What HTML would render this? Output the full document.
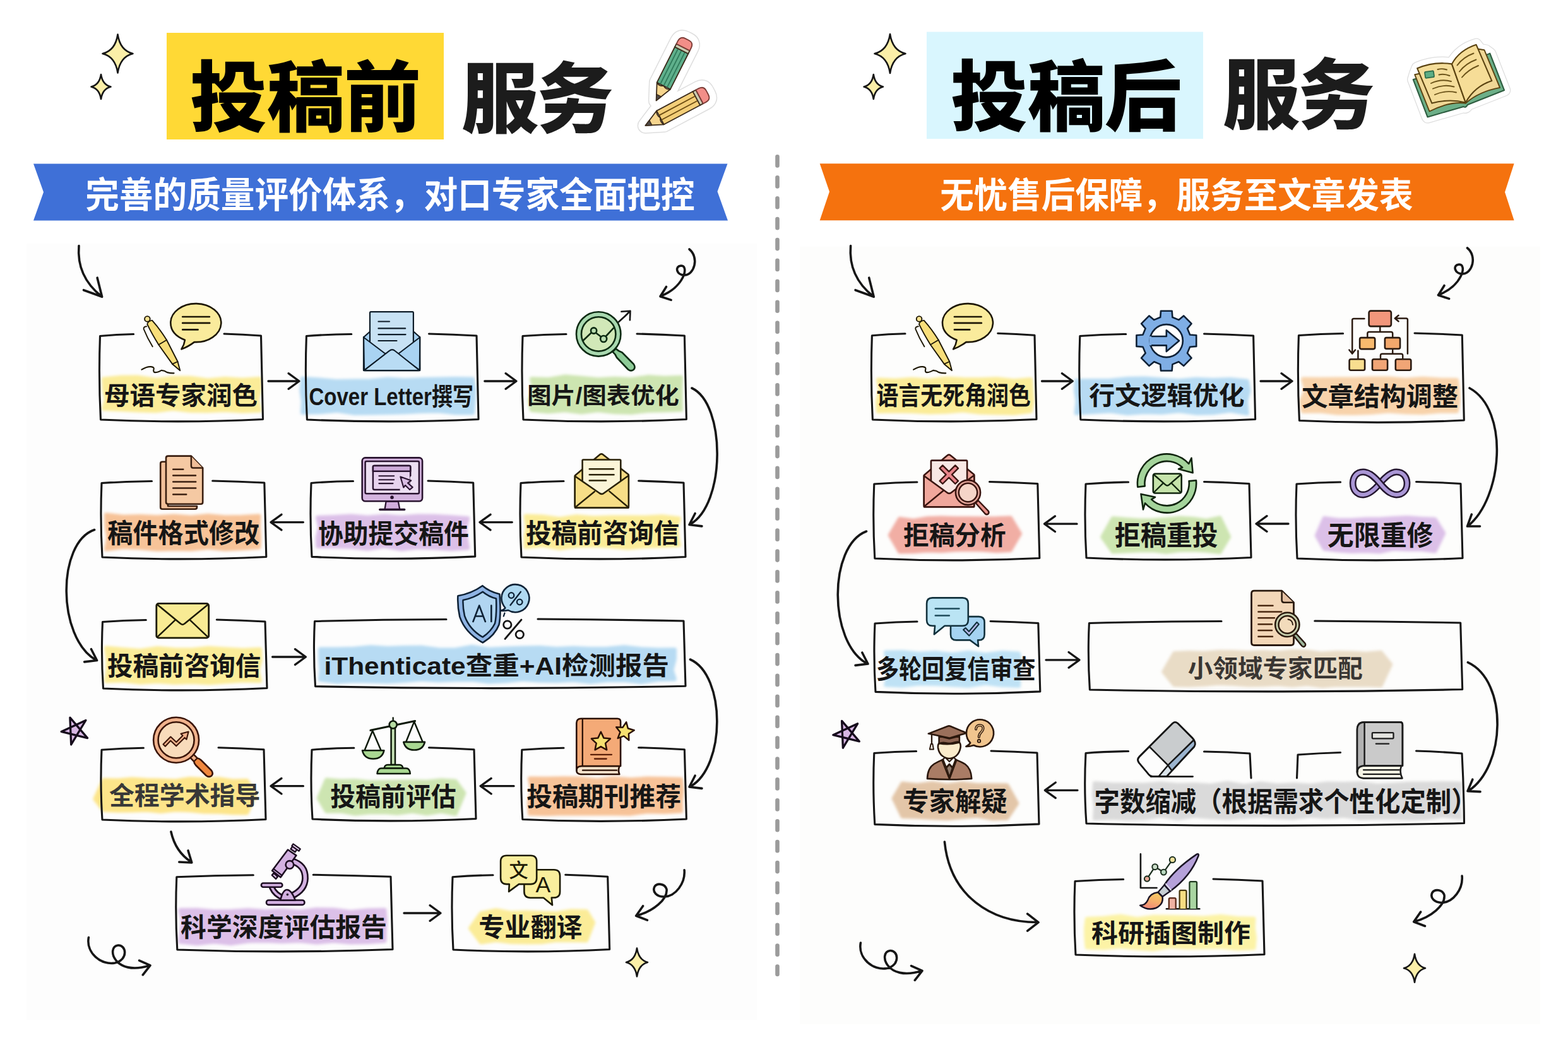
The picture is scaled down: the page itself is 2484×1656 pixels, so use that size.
<!DOCTYPE html>
<html lang="zh"><head><meta charset="utf-8"><title>投稿前服务 / 投稿后服务</title>
<style>
html,body{margin:0;padding:0;background:#ffffff;}
body{width:2484px;height:1656px;overflow:hidden;font-family:"Liberation Sans","Noto Sans CJK SC",sans-serif;}
svg{display:block;}
.t{font-family:"Liberation Sans","Noto Sans CJK SC",sans-serif;font-weight:bold;}
</style></head><body>
<svg width="2484" height="1656" viewBox="0 0 2484 1656">
<defs><filter id="bl" x="-5%" y="-20%" width="110%" height="140%"><feGaussianBlur stdDeviation="2.2"/></filter>
<linearGradient id="brg" x1="0.7" y1="0" x2="0.3" y2="1"><stop offset="0" stop-color="#F7CC62"/><stop offset="0.5" stop-color="#F5AE6C"/><stop offset="1" stop-color="#F0837A"/></linearGradient></defs>
<rect width="2484" height="1656" fill="#ffffff"/><rect x="42" y="386" width="1157" height="1230" fill="#fdfdfd"/><rect x="1267" y="391" width="1173" height="1232" fill="#fdfdfc"/>
<rect x="264" y="52" width="439" height="169" fill="#FFD935"/>
<rect x="1468" y="50.5" width="438" height="169.5" fill="#D9F6FE"/>
<text x="301" y="198" font-size="122" textLength="366" class="t" style="font-weight:900" fill="#000">投稿前</text><text x="731" y="200" font-size="122" textLength="241" class="t" style="font-weight:900" fill="#1c1c1c">服务</text>
<text x="1506" y="197" font-size="122" textLength="366" class="t" style="font-weight:900" fill="#000">投稿后</text><text x="1937" y="194" font-size="122" textLength="241" class="t" style="font-weight:900" fill="#1c1c1c">服务</text>
<path d="M186.5 54.5 Q190.3 80.1 210.5 85.0 Q190.3 89.9 186.5 115.5 Q182.7 89.9 162.5 85.0 Q182.7 80.1 186.5 54.5 Z" fill="#FBEFA8" stroke="#161616" stroke-width="2.6" stroke-linejoin="round"/>
<path d="M160.0 118.0 Q162.5 134.4 175.5 137.5 Q162.5 140.6 160.0 157.0 Q157.5 140.6 144.5 137.5 Q157.5 134.4 160.0 118.0 Z" fill="#FBEFA8" stroke="#161616" stroke-width="2.6" stroke-linejoin="round"/>
<path d="M1410.0 54.0 Q1413.9 80.0 1434.5 85.0 Q1413.9 90.0 1410.0 116.0 Q1406.1 90.0 1385.5 85.0 Q1406.1 80.0 1410.0 54.0 Z" fill="#FBEFA8" stroke="#161616" stroke-width="2.6" stroke-linejoin="round"/>
<path d="M1383.8 118.0 Q1386.2 134.4 1399.0 137.5 Q1386.2 140.6 1383.8 157.0 Q1381.4 140.6 1368.6 137.5 Q1381.4 134.4 1383.8 118.0 Z" fill="#FBEFA8" stroke="#161616" stroke-width="2.6" stroke-linejoin="round"/>
<path d="M1009.0 1502.5 Q1011.7 1521.4 1026.0 1525.0 Q1011.7 1528.6 1009.0 1547.5 Q1006.3 1528.6 992.0 1525.0 Q1006.3 1521.4 1009.0 1502.5 Z" fill="#FBEFA8" stroke="#161616" stroke-width="2.6" stroke-linejoin="round"/>
<path d="M2241.0 1511.8 Q2243.7 1530.7 2258.0 1534.3 Q2243.7 1537.9 2241.0 1556.8 Q2238.3 1537.9 2224.0 1534.3 Q2238.3 1530.7 2241.0 1511.8 Z" fill="#FBEFA8" stroke="#161616" stroke-width="2.6" stroke-linejoin="round"/>
<path d="M53 259.5 L1152.5 259.5 L1136.5 303.5 L1153 349.5 L53 349.5 L69 304.5 Z" fill="#3F70D7"/>
<path d="M1298.7 259.3 L2398.6 259.3 L2384 304.5 L2398.6 349.3 L1298.7 349.3 L1314 303.8 Z" fill="#F5720E"/>
<text x="135.3" y="328.8" font-size="56.8" textLength="965.3" lengthAdjust="spacingAndGlyphs" class="t" fill="#fff">完善的质量评价体系，对口专家全面把控</text>
<text x="1489.3" y="329.2" font-size="55.7" textLength="749.1" lengthAdjust="spacingAndGlyphs" class="t" fill="#fff">无忧售后保障，服务至文章发表</text>
<line x1="1231.5" y1="248.4" x2="1231.5" y2="1544" stroke="#9b9b9b" stroke-width="6.6" stroke-linecap="round" stroke-dasharray="14.1 18.8"/>
<path d="M164.0 600.6 L191.5 597.8 L219.0 597.6 L246.5 601.7 L274.0 598.8 L301.5 598.7 L329.0 602.5 L356.5 599.9 L384.0 601.7 L411.5 599.9 L411.6 616.7 L407.7 633.3 L411.5 650.7 L384.0 651.8 L356.5 650.1 L329.0 651.2 L301.5 650.9 L274.0 647.8 L246.5 651.3 L219.0 650.5 L191.5 649.0 L164.0 647.7 L167.9 633.3 L164.8 616.7Z" fill="#FBEC98" stroke="#FBEC98" stroke-width="6" stroke-linejoin="round" opacity="1.00" filter="url(#bl)"/>
<path d="M479.0 599.8 L506.0 601.5 L533.0 604.1 L560.0 603.5 L587.0 603.3 L614.0 600.6 L641.0 602.2 L668.0 600.9 L695.0 600.4 L722.0 600.0 L749.0 600.6 L751.4 619.0 L750.6 636.0 L749.0 654.5 L722.0 654.5 L695.0 651.5 L668.0 652.0 L641.0 653.6 L614.0 654.2 L587.0 654.8 L560.0 654.9 L533.0 650.9 L506.0 653.5 L479.0 653.9 L480.0 636.0 L477.4 619.0Z" fill="#B7DBF3" stroke="#B7DBF3" stroke-width="6" stroke-linejoin="round" opacity="1.00" filter="url(#bl)"/>
<path d="M842.0 600.2 L868.3 601.1 L894.7 596.6 L921.0 598.8 L947.3 601.2 L973.7 599.7 L1000.0 601.0 L1026.3 597.1 L1052.7 598.8 L1079.0 597.7 L1078.4 616.7 L1078.6 634.3 L1079.0 649.6 L1052.7 650.6 L1026.3 650.9 L1000.0 654.1 L973.7 653.3 L947.3 650.3 L921.0 653.5 L894.7 650.2 L868.3 652.6 L842.0 650.1 L839.0 634.3 L846.0 616.7Z" fill="#CDE5B1" stroke="#CDE5B1" stroke-width="6" stroke-linejoin="round" opacity="1.00" filter="url(#bl)"/>
<path d="M168.0 815.5 L194.9 818.8 L221.9 817.9 L248.8 819.3 L275.8 817.4 L302.7 819.4 L329.7 816.9 L356.6 819.5 L383.6 819.1 L410.5 817.6 L409.8 835.0 L411.0 852.0 L410.5 867.5 L383.6 869.3 L356.6 870.5 L329.7 867.8 L302.7 870.5 L275.8 869.9 L248.8 870.7 L221.9 868.2 L194.9 867.0 L168.0 870.5 L171.4 852.0 L168.6 835.0Z" fill="#F7C398" stroke="#F7C398" stroke-width="6" stroke-linejoin="round" opacity="1.00" filter="url(#bl)"/>
<path d="M503.0 819.9 L529.5 819.0 L556.0 817.5 L582.5 819.7 L609.0 817.4 L635.4 819.4 L661.9 817.5 L688.4 817.7 L714.9 819.3 L741.4 821.3 L737.4 835.8 L738.2 851.9 L741.4 868.6 L714.9 870.2 L688.4 868.4 L661.9 867.5 L635.4 870.4 L609.0 865.7 L582.5 869.8 L556.0 866.9 L529.5 866.2 L503.0 866.1 L502.5 851.9 L506.5 835.8Z" fill="#DCC0E8" stroke="#DCC0E8" stroke-width="6" stroke-linejoin="round" opacity="1.00" filter="url(#bl)"/>
<path d="M832.5 817.6 L859.6 818.4 L886.6 822.2 L913.7 818.2 L940.7 820.4 L967.8 819.5 L994.8 819.5 L1021.9 819.7 L1048.9 818.2 L1076.0 821.4 L1071.7 835.3 L1072.9 850.9 L1076.0 864.1 L1048.9 865.3 L1021.9 866.0 L994.8 868.5 L967.8 865.9 L940.7 864.6 L913.7 865.3 L886.6 869.0 L859.6 864.3 L832.5 867.1 L832.5 850.9 L834.8 835.3Z" fill="#FBEC98" stroke="#FBEC98" stroke-width="6" stroke-linejoin="round" opacity="1.00" filter="url(#bl)"/>
<path d="M168.0 1026.5 L195.1 1029.0 L222.2 1031.0 L249.3 1026.9 L276.4 1029.3 L303.6 1029.6 L330.7 1026.7 L357.8 1028.4 L384.9 1030.0 L412.0 1028.8 L412.8 1046.2 L408.3 1063.3 L412.0 1079.2 L384.9 1078.6 L357.8 1080.5 L330.7 1082.6 L303.6 1081.0 L276.4 1081.9 L249.3 1079.9 L222.2 1081.7 L195.1 1078.5 L168.0 1079.5 L170.4 1063.3 L170.8 1046.2Z" fill="#FBEC98" stroke="#FBEC98" stroke-width="6" stroke-linejoin="round" opacity="1.00" filter="url(#bl)"/>
<path d="M507.0 1028.6 L533.8 1028.6 L560.5 1027.8 L587.3 1025.3 L614.0 1027.1 L640.8 1026.1 L667.6 1025.7 L694.3 1029.3 L721.1 1029.5 L747.9 1024.7 L774.6 1028.8 L801.4 1027.5 L828.1 1026.4 L854.9 1025.9 L881.7 1027.9 L908.4 1026.8 L935.2 1027.9 L962.0 1027.8 L988.7 1025.2 L1015.5 1028.3 L1042.2 1029.4 L1069.0 1029.3 L1068.9 1044.3 L1064.4 1061.7 L1069.0 1076.5 L1042.2 1077.2 L1015.5 1081.2 L988.7 1078.0 L962.0 1078.3 L935.2 1081.0 L908.4 1078.1 L881.7 1079.2 L854.9 1078.7 L828.1 1076.8 L801.4 1079.4 L774.6 1080.7 L747.9 1077.3 L721.1 1077.6 L694.3 1078.6 L667.6 1076.7 L640.8 1079.0 L614.0 1080.6 L587.3 1079.8 L560.5 1079.2 L533.8 1080.8 L507.0 1077.2 L508.5 1061.7 L507.0 1044.3Z" fill="#B7DBF3" stroke="#B7DBF3" stroke-width="6" stroke-linejoin="round" opacity="1.00" filter="url(#bl)"/>
<path d="M164.0 1236.0 L186.7 1236.4 L209.4 1234.4 L232.2 1236.1 L254.9 1236.6 L277.6 1237.5 L300.4 1234.0 L323.1 1235.0 L345.8 1234.0 L368.6 1237.5 L391.3 1237.0 L404.1 1258.6 L391.3 1288.4 L368.6 1288.3 L345.8 1286.8 L323.1 1286.6 L300.4 1284.3 L277.6 1283.6 L254.9 1286.1 L232.2 1283.8 L209.4 1284.5 L186.7 1284.7 L164.0 1283.7 L150.4 1266.1Z" fill="#FDE58A" stroke="#FDE58A" stroke-width="6" stroke-linejoin="round" opacity="1.00" filter="url(#bl)"/>
<path d="M517.1 1235.6 L539.8 1237.4 L562.6 1236.9 L585.3 1239.6 L608.0 1239.0 L630.7 1238.5 L653.4 1238.3 L676.2 1238.8 L698.9 1236.2 L721.6 1237.7 L735.5 1256.7 L721.6 1290.0 L698.9 1285.8 L676.2 1289.6 L653.4 1285.9 L630.7 1288.9 L608.0 1287.2 L585.3 1287.5 L562.6 1289.7 L539.8 1285.6 L517.1 1285.8 L504.7 1265.0Z" fill="#CDE5B1" stroke="#CDE5B1" stroke-width="6" stroke-linejoin="round" opacity="1.00" filter="url(#bl)"/>
<path d="M839.0 1233.4 L865.7 1233.7 L892.3 1233.2 L919.0 1233.6 L945.7 1236.2 L972.3 1233.2 L999.0 1235.2 L1025.7 1233.6 L1052.3 1234.0 L1079.0 1234.7 L1080.7 1252.7 L1078.9 1270.3 L1079.0 1285.6 L1052.3 1286.9 L1025.7 1286.2 L999.0 1289.9 L972.3 1289.5 L945.7 1289.5 L919.0 1289.6 L892.3 1289.2 L865.7 1290.2 L839.0 1289.5 L838.1 1270.3 L842.8 1252.7Z" fill="#F7C398" stroke="#F7C398" stroke-width="6" stroke-linejoin="round" opacity="1.00" filter="url(#bl)"/>
<path d="M285.4 1441.9 L312.4 1441.8 L339.4 1444.2 L366.4 1443.8 L393.4 1442.0 L420.4 1443.9 L447.4 1442.5 L474.5 1444.4 L501.5 1441.1 L528.5 1441.6 L555.5 1445.0 L582.5 1442.3 L609.5 1441.8 L610.9 1459.7 L609.6 1476.3 L609.5 1491.2 L582.5 1493.3 L555.5 1493.8 L528.5 1491.3 L501.5 1493.8 L474.5 1491.1 L447.4 1492.2 L420.4 1490.9 L393.4 1491.5 L366.4 1495.4 L339.4 1492.5 L312.4 1495.5 L285.4 1492.7 L287.3 1476.3 L289.4 1459.7Z" fill="#DCC0E8" stroke="#DCC0E8" stroke-width="6" stroke-linejoin="round" opacity="1.00" filter="url(#bl)"/>
<path d="M762.1 1447.1 L785.9 1442.3 L809.8 1446.6 L833.7 1445.6 L857.5 1446.5 L881.4 1447.2 L905.3 1443.4 L929.1 1443.9 L940.1 1462.0 L929.1 1490.4 L905.3 1490.3 L881.4 1490.1 L857.5 1493.3 L833.7 1493.4 L809.8 1493.0 L785.9 1490.1 L762.1 1493.6 L745.0 1470.9Z" fill="#FBEC98" stroke="#FBEC98" stroke-width="6" stroke-linejoin="round" opacity="1.00" filter="url(#bl)"/>
<path d="M1391.0 601.5 L1417.9 602.8 L1444.8 600.8 L1471.7 602.7 L1498.6 599.6 L1525.4 601.0 L1552.3 601.2 L1579.2 600.2 L1606.1 603.2 L1633.0 601.1 L1634.3 619.0 L1635.6 636.0 L1633.0 651.8 L1606.1 655.0 L1579.2 654.5 L1552.3 653.8 L1525.4 650.6 L1498.6 652.8 L1471.7 653.6 L1444.8 652.0 L1417.9 651.6 L1391.0 652.0 L1390.1 636.0 L1394.3 619.0Z" fill="#FBEC98" stroke="#FBEC98" stroke-width="6" stroke-linejoin="round" opacity="1.00" filter="url(#bl)"/>
<path d="M1704.6 603.3 L1731.7 603.0 L1758.9 602.8 L1786.0 600.1 L1813.2 599.6 L1840.3 601.4 L1867.4 603.2 L1894.6 600.8 L1921.7 602.0 L1948.9 601.1 L1976.0 603.7 L1978.6 619.0 L1974.2 636.0 L1976.0 655.5 L1948.9 650.8 L1921.7 654.6 L1894.6 654.9 L1867.4 651.3 L1840.3 654.0 L1813.2 653.3 L1786.0 655.3 L1758.9 651.6 L1731.7 653.2 L1704.6 654.9 L1706.7 636.0 L1704.1 619.0Z" fill="#B7DBF3" stroke="#B7DBF3" stroke-width="6" stroke-linejoin="round" opacity="1.00" filter="url(#bl)"/>
<path d="M2064.0 600.6 L2091.1 600.7 L2118.2 600.6 L2145.3 600.5 L2172.4 599.5 L2199.6 599.5 L2226.7 601.7 L2253.8 599.8 L2280.9 601.6 L2308.0 602.1 L2309.9 618.1 L2310.6 635.6 L2308.0 651.7 L2280.9 651.7 L2253.8 654.2 L2226.7 653.4 L2199.6 651.5 L2172.4 653.9 L2145.3 654.9 L2118.2 654.7 L2091.1 651.6 L2064.0 652.0 L2061.1 635.6 L2068.8 618.1Z" fill="#F8D3AB" stroke="#F8D3AB" stroke-width="6" stroke-linejoin="round" opacity="1.00" filter="url(#bl)"/>
<path d="M1425.2 821.9 L1447.2 824.9 L1469.1 821.3 L1491.0 820.6 L1513.0 821.2 L1534.9 821.2 L1556.8 821.5 L1578.8 821.2 L1600.7 820.4 L1616.0 845.8 L1600.7 872.1 L1578.8 873.3 L1556.8 871.5 L1534.9 870.9 L1513.0 871.5 L1491.0 873.2 L1469.1 872.4 L1447.2 874.2 L1425.2 874.5 L1409.9 847.9Z" fill="#F1AEA4" stroke="#F1AEA4" stroke-width="6" stroke-linejoin="round" opacity="1.00" filter="url(#bl)"/>
<path d="M1762.9 821.2 L1784.1 823.1 L1805.3 824.4 L1826.5 824.3 L1847.7 822.8 L1868.8 820.7 L1890.0 822.0 L1911.2 824.9 L1932.4 820.4 L1947.0 850.6 L1932.4 875.3 L1911.2 872.7 L1890.0 871.5 L1868.8 872.1 L1847.7 875.0 L1826.5 872.2 L1805.3 872.6 L1784.1 873.6 L1762.9 874.5 L1746.3 850.9Z" fill="#CDE5B1" stroke="#CDE5B1" stroke-width="6" stroke-linejoin="round" opacity="1.00" filter="url(#bl)"/>
<path d="M2097.8 821.0 L2119.7 823.9 L2141.7 823.9 L2163.6 822.5 L2185.6 822.4 L2207.5 821.1 L2229.5 819.9 L2251.4 821.8 L2273.4 822.8 L2287.2 844.9 L2273.4 873.5 L2251.4 870.7 L2229.5 870.7 L2207.5 869.7 L2185.6 874.5 L2163.6 873.2 L2141.7 873.9 L2119.7 872.6 L2097.8 869.7 L2085.8 848.8Z" fill="#DCC0E8" stroke="#DCC0E8" stroke-width="6" stroke-linejoin="round" opacity="1.00" filter="url(#bl)"/>
<path d="M1403.0 1033.4 L1429.4 1033.1 L1455.8 1035.8 L1482.1 1034.2 L1508.5 1036.9 L1534.9 1033.7 L1561.2 1037.3 L1587.6 1034.1 L1614.0 1035.5 L1616.5 1051.7 L1614.5 1068.3 L1614.0 1087.1 L1587.6 1086.0 L1561.2 1082.7 L1534.9 1086.9 L1508.5 1085.4 L1482.1 1084.1 L1455.8 1083.5 L1429.4 1086.7 L1403.0 1085.4 L1407.5 1068.3 L1406.2 1051.7Z" fill="#BFE2F5" stroke="#BFE2F5" stroke-width="6" stroke-linejoin="round" opacity="1.00" filter="url(#bl)"/>
<path d="M1860.3 1035.0 L1883.7 1034.1 L1907.0 1034.7 L1930.4 1032.7 L1953.8 1033.0 L1977.2 1034.2 L2000.5 1033.1 L2023.9 1034.3 L2047.3 1032.1 L2070.7 1032.4 L2094.0 1035.6 L2117.4 1034.1 L2140.8 1034.6 L2164.2 1035.7 L2187.6 1033.8 L2203.2 1052.8 L2187.6 1086.4 L2164.2 1085.4 L2140.8 1085.8 L2117.4 1085.6 L2094.0 1087.4 L2070.7 1084.3 L2047.3 1086.3 L2023.9 1084.3 L2000.5 1085.4 L1977.2 1085.8 L1953.8 1084.1 L1930.4 1082.9 L1907.0 1084.9 L1883.7 1086.1 L1860.3 1085.5 L1843.3 1064.5Z" fill="#E9DCC6" stroke="#E9DCC6" stroke-width="6" stroke-linejoin="round" opacity="1.00" filter="url(#bl)"/>
<path d="M1429.5 1241.5 L1453.2 1243.9 L1476.9 1241.0 L1500.6 1244.3 L1524.2 1241.3 L1547.9 1244.0 L1571.6 1244.1 L1595.3 1244.3 L1611.3 1273.0 L1595.3 1296.8 L1571.6 1297.4 L1547.9 1293.1 L1524.2 1295.1 L1500.6 1297.3 L1476.9 1296.2 L1453.2 1294.7 L1429.5 1294.0 L1415.6 1265.2Z" fill="#E3C6A8" stroke="#E3C6A8" stroke-width="6" stroke-linejoin="round" opacity="1.00" filter="url(#bl)"/>
<path d="M1721.8 1455.9 L1748.3 1454.7 L1774.7 1451.7 L1801.2 1456.3 L1827.7 1452.8 L1854.2 1453.0 L1880.6 1453.6 L1907.1 1454.4 L1933.6 1452.1 L1960.0 1454.9 L1986.5 1455.7 L1985.6 1470.0 L1987.9 1486.0 L1986.5 1502.6 L1960.0 1503.6 L1933.6 1500.4 L1907.1 1501.3 L1880.6 1501.8 L1854.2 1500.0 L1827.7 1504.4 L1801.2 1502.7 L1774.7 1500.0 L1748.3 1502.4 L1721.8 1501.6 L1720.3 1486.0 L1720.1 1470.0Z" fill="#FCF3A6" stroke="#FCF3A6" stroke-width="6" stroke-linejoin="round" opacity="1.00" filter="url(#bl)"/>
<path d="M1734.0 1241.1 L1760.3 1242.9 L1786.6 1243.3 L1813.0 1243.6 L1839.3 1241.2 L1865.6 1243.7 L1891.9 1243.0 L1918.2 1244.8 L1944.5 1240.6 L1970.9 1245.3 L1997.2 1241.4 L2023.5 1244.6 L2049.8 1243.0 L2076.1 1244.7 L2102.5 1241.4 L2128.8 1242.1 L2155.1 1240.9 L2181.4 1244.4 L2207.7 1243.2 L2234.0 1241.5 L2260.4 1241.5 L2286.7 1240.9 L2313.0 1241.5 L2312.5 1260.3 L2311.5 1277.7 L2313.0 1296.0 L2286.7 1292.9 L2260.4 1296.7 L2234.0 1297.4 L2207.7 1296.2 L2181.4 1296.2 L2155.1 1296.7 L2128.8 1293.0 L2102.5 1294.8 L2076.1 1292.9 L2049.8 1296.4 L2023.5 1295.2 L1997.2 1293.0 L1970.9 1294.7 L1944.5 1296.4 L1918.2 1295.3 L1891.9 1293.1 L1865.6 1297.2 L1839.3 1292.8 L1813.0 1296.7 L1786.6 1297.4 L1760.3 1296.3 L1734.0 1297.2 L1735.2 1277.7 L1732.8 1260.3Z" fill="#DADADA" stroke="#DADADA" stroke-width="6" stroke-linejoin="round" opacity="1.00" filter="url(#bl)"/>
<path d="M211.6 529.5 Q184.6 529.8 158.5 532.5 Q156.0 598.5 159.5 665.0 Q286.0 671.0 416.5 664.5 Q415.0 598.5 413.5 532.0 Q384.8 529.8 355.0 529.0" fill="none" stroke="#161616" stroke-width="3.1" stroke-linecap="round" stroke-linejoin="round"/>
<path d="M556.8 529.5 Q520.6 529.8 485.4 532.5 Q482.9 598.5 486.4 665.0 Q620.2 671.0 758.0 664.5 Q756.5 598.5 755.0 532.0 Q717.8 529.8 679.5 529.0" fill="none" stroke="#161616" stroke-width="3.1" stroke-linecap="round" stroke-linejoin="round"/>
<path d="M897.0 529.5 Q862.0 529.8 828.0 532.5 Q825.5 598.5 829.0 665.0 Q956.2 671.0 1087.4 664.5 Q1085.9 598.5 1084.4 532.0 Q1047.2 529.8 1009.0 529.0" fill="none" stroke="#161616" stroke-width="3.1" stroke-linecap="round" stroke-linejoin="round"/>
<path d="M240.5 762.5 Q200.2 762.8 161.0 765.5 Q158.5 824.0 162.0 883.0 Q289.9 889.0 421.8 882.5 Q420.3 824.0 418.8 765.0 Q378.2 762.8 336.7 762.0" fill="none" stroke="#161616" stroke-width="3.1" stroke-linecap="round" stroke-linejoin="round"/>
<path d="M559.5 762.5 Q525.8 762.8 493.0 765.5 Q490.5 823.7 494.0 882.4 Q621.4 888.4 752.7 881.9 Q751.2 823.7 749.7 765.0 Q714.4 762.8 678.0 762.0" fill="none" stroke="#161616" stroke-width="3.1" stroke-linecap="round" stroke-linejoin="round"/>
<path d="M893.0 762.5 Q858.5 762.8 825.0 765.5 Q822.5 824.0 826.0 883.0 Q954.0 889.0 1086.0 882.5 Q1084.5 824.0 1083.0 765.0 Q1047.8 762.8 1011.6 762.0" fill="none" stroke="#161616" stroke-width="3.1" stroke-linecap="round" stroke-linejoin="round"/>
<path d="M231.3 982.5 Q196.4 982.8 162.5 985.5 Q160.0 1038.0 163.5 1091.0 Q291.2 1097.0 423.0 1090.5 Q421.5 1038.0 420.0 985.0 Q382.1 982.8 343.3 982.0" fill="none" stroke="#161616" stroke-width="3.1" stroke-linecap="round" stroke-linejoin="round"/>
<path d="M707.0 981.5 Q602.2 981.8 498.5 984.5 Q496.0 1035.8 499.5 1087.7 Q790.8 1093.7 1086.0 1087.2 Q1084.5 1035.8 1083.0 984.0 Q968.0 981.8 852.0 981.0" fill="none" stroke="#161616" stroke-width="3.1" stroke-linecap="round" stroke-linejoin="round"/>
<path d="M227.4 1185.2 Q193.7 1185.5 161.0 1188.2 Q158.5 1243.3 162.0 1299.0 Q289.5 1305.0 421.0 1298.5 Q419.5 1243.3 418.0 1187.7 Q382.5 1185.5 346.0 1184.7" fill="none" stroke="#161616" stroke-width="3.1" stroke-linecap="round" stroke-linejoin="round"/>
<path d="M560.8 1185.2 Q526.9 1185.5 494.0 1188.2 Q491.5 1242.8 495.0 1298.0 Q622.5 1304.0 754.0 1297.5 Q752.5 1242.8 751.0 1187.7 Q715.8 1185.5 679.5 1184.7" fill="none" stroke="#161616" stroke-width="3.1" stroke-linecap="round" stroke-linejoin="round"/>
<path d="M893.0 1185.2 Q859.4 1185.5 826.8 1188.2 Q824.3 1243.1 827.8 1298.5 Q955.6 1304.5 1087.4 1298.0 Q1085.9 1243.1 1084.4 1187.7 Q1048.5 1185.5 1011.6 1184.7" fill="none" stroke="#161616" stroke-width="3.1" stroke-linecap="round" stroke-linejoin="round"/>
<path d="M401.3 1386.8 Q340.1 1387.1 279.8 1389.8 Q277.3 1447.2 280.8 1505.0 Q449.4 1511.0 622.0 1504.5 Q620.5 1447.2 619.0 1389.3 Q558.1 1387.1 496.2 1386.3" fill="none" stroke="#161616" stroke-width="3.1" stroke-linecap="round" stroke-linejoin="round"/>
<path d="M781.0 1386.8 Q748.5 1387.1 717.0 1389.8 Q714.5 1447.2 718.0 1505.0 Q839.9 1511.0 965.7 1504.5 Q964.2 1447.2 962.7 1389.3 Q929.7 1387.1 895.7 1386.3" fill="none" stroke="#161616" stroke-width="3.1" stroke-linecap="round" stroke-linejoin="round"/>
<path d="M1434.0 528.8 Q1407.2 529.1 1381.4 531.8 Q1378.9 598.1 1382.4 665.0 Q1510.2 671.0 1642.0 664.5 Q1640.5 598.1 1639.0 531.3 Q1610.3 529.1 1580.7 528.3" fill="none" stroke="#161616" stroke-width="3.1" stroke-linecap="round" stroke-linejoin="round"/>
<path d="M1783.7 529.5 Q1746.8 529.8 1710.8 532.5 Q1708.3 598.5 1711.8 665.0 Q1848.2 671.0 1988.6 664.5 Q1987.1 598.5 1985.6 532.0 Q1947.0 529.8 1907.5 529.0" fill="none" stroke="#161616" stroke-width="3.1" stroke-linecap="round" stroke-linejoin="round"/>
<path d="M2127.6 528.5 Q2092.0 528.8 2057.4 531.5 Q2054.9 598.8 2058.4 666.5 Q2186.9 672.5 2319.3 666.0 Q2317.8 598.8 2316.3 531.0 Q2279.2 528.8 2241.0 528.0" fill="none" stroke="#161616" stroke-width="3.1" stroke-linecap="round" stroke-linejoin="round"/>
<path d="M1452.9 764.0 Q1418.3 764.3 1384.8 767.0 Q1382.3 825.8 1385.8 885.0 Q1514.3 891.0 1646.8 884.5 Q1645.3 825.8 1643.8 766.5 Q1606.2 764.3 1567.5 763.5" fill="none" stroke="#161616" stroke-width="3.1" stroke-linecap="round" stroke-linejoin="round"/>
<path d="M1787.6 764.0 Q1753.3 764.3 1720.0 767.0 Q1717.5 825.2 1721.0 884.0 Q1849.5 890.0 1982.0 883.5 Q1980.5 825.2 1979.0 766.5 Q1943.8 764.3 1907.5 763.5" fill="none" stroke="#161616" stroke-width="3.1" stroke-linecap="round" stroke-linejoin="round"/>
<path d="M2123.6 764.0 Q2088.3 764.3 2054.0 767.0 Q2051.5 825.8 2055.0 885.0 Q2184.0 891.0 2317.0 884.5 Q2315.5 825.8 2314.0 766.5 Q2279.2 764.3 2243.5 763.5" fill="none" stroke="#161616" stroke-width="3.1" stroke-linecap="round" stroke-linejoin="round"/>
<path d="M1453.0 985.0 Q1419.0 985.3 1386.0 988.0 Q1383.5 1042.0 1387.0 1096.4 Q1515.4 1102.4 1647.8 1095.9 Q1646.3 1042.0 1644.8 987.5 Q1607.4 985.3 1569.0 984.5" fill="none" stroke="#161616" stroke-width="3.1" stroke-linecap="round" stroke-linejoin="round"/>
<path d="M1935.0 984.5 Q1829.7 984.8 1725.4 987.5 Q1722.9 1040.0 1726.4 1093.0 Q2019.5 1099.0 2316.7 1092.5 Q2315.2 1040.0 2313.7 987.0 Q2198.8 984.8 2082.8 984.0" fill="none" stroke="#161616" stroke-width="3.1" stroke-linecap="round" stroke-linejoin="round"/>
<path d="M1451.6 1190.5 Q1417.7 1190.8 1384.8 1193.5 Q1382.3 1249.7 1385.8 1306.4 Q1513.9 1312.4 1646.0 1305.9 Q1644.5 1249.7 1643.0 1193.0 Q1607.0 1190.8 1570.0 1190.0" fill="none" stroke="#161616" stroke-width="3.1" stroke-linecap="round" stroke-linejoin="round"/>
<path d="M1779.7 1393.5 Q1740.8 1393.8 1703.0 1396.5 Q1700.5 1454.5 1704.0 1513.0 Q1851.5 1519.0 2003.0 1512.5 Q2001.5 1454.5 2000.0 1396.0 Q1961.5 1393.8 1922.0 1393.0" fill="none" stroke="#161616" stroke-width="3.1" stroke-linecap="round" stroke-linejoin="round"/>
<path d="M1787.6 1190.5 Q1750 1191 1720 1193.5 Q1717 1250 1721 1305 Q2018 1312 2319.5 1304.5 Q2319 1250 2316 1194 Q2280 1191 2243.5 1190" fill="none" stroke="#161616" stroke-width="3.1" stroke-linecap="round" stroke-linejoin="round"/>
<path d="M1907.5 1191 Q1945 1191.5 1980 1194 L1982 1233 M2123.6 1192.5 Q2090 1193.5 2056 1196 L2054.5 1233" fill="none" stroke="#161616" stroke-width="3.1" stroke-linecap="round" stroke-linejoin="round"/>
<path d="M292.9 538.8 Q270.3 530 270.3 511.5 A40 30.5 0 1 1 307.8 542.1 Q298 549.5 287.5 553.3 Q292 546 292.9 538.8Z" fill="#FAEB9C" stroke="#1d1705" stroke-width="2.6" stroke-linecap="round" stroke-linejoin="round" /><path d="M289.2 502.0 H331.9 M289.2 511.9 H332.2 M289.2 522.4 H313.6" fill="none" stroke="#1d1705" stroke-width="2.6" stroke-linecap="round" stroke-linejoin="round" /><path d="M232.1 517.3 Q227 517.5 227.7 521.5 Q233.5 536 241.7 549.2" fill="none" stroke="#1d1705" stroke-width="2.0" stroke-linecap="round" stroke-linejoin="round" /><path d="M233.2 513.7 Q234.6 508.5 240.9 507.6 Q253 521 264 538.8 L281.5 573 L285.3 587.2 L273.1 576.9 L251.3 546.3 Q240.5 529 233.2 513.7 Z" fill="#F8DE7A" stroke="#1d1705" stroke-width="1.9" stroke-linecap="round" stroke-linejoin="round" /><circle cx="233.4" cy="505.4" r="4.3" fill="#F8E391" stroke="#1d1705" stroke-width="1.9"/><path d="M251.3 546.3 L264 538.8 M273.1 576.9 L281.5 573" fill="none" stroke="#1d1705" stroke-width="1.8" stroke-linecap="round" stroke-linejoin="round" /><path d="M224.5 585.6 Q233 580.5 239.1 581.1 Q244.5 581.8 243.6 585 Q242.5 588.5 244.5 590 Q248 591 255.7 586.9 Q260.5 587 264.7 590.1 Q270 591.5 275.5 591.3" fill="none" stroke="#1d1705" stroke-width="2.2" stroke-linecap="round" stroke-linejoin="round" />
<path d="M576.5 534 L585.5 526 L655.8 526 L664.8 534 L665.2 587.1 L576 587.1 Z" fill="#A5CFEF" stroke="#0e1c28" stroke-width="2.2" stroke-linecap="round" stroke-linejoin="round" /><path d="M587.5 494.2 H653.4 Q654.9 494.2 654.9 496 V560 H586 V496 Q586 494.2 587.5 494.2Z" fill="#C8E2F4" stroke="#0e1c28" stroke-width="2.2" stroke-linecap="round" stroke-linejoin="round" /><path d="M599.4 509.5 H617.0 M599.4 520.4 H642.2 M599.4 530.1 H642.6 M599.4 540.0 H628.5" fill="none" stroke="#0e1c28" stroke-width="2.1" stroke-linecap="round" stroke-linejoin="round" /><path d="M576 534.5 L611 561 L577 586.5 Z" fill="#A9D3F2" stroke="#0e1c28" stroke-width="2.1" stroke-linecap="round" stroke-linejoin="round" /><path d="M665.2 534.5 L630.5 561 L664.8 586.5 Z" fill="#A9D3F2" stroke="#0e1c28" stroke-width="2.1" stroke-linecap="round" stroke-linejoin="round" /><path d="M577 587 L616.5 556.2 Q621.2 552.2 626 556.2 L664.6 587 Z" fill="#B9DCF4" stroke="#0e1c28" stroke-width="2.1" stroke-linecap="round" stroke-linejoin="round" /><rect style="display:none" x="576.0" y="533.6" width="89.2" height="53.5" rx="2.5" fill="none" stroke="#0e1c28" stroke-width="2.2" stroke-linejoin="round"/><path d="M576 534 V585 Q576 587.1 578 587.1 H663 Q665.2 587.1 665.2 585 V534" fill="none" stroke="#0e1c28" stroke-width="2.2" stroke-linecap="round" stroke-linejoin="round" />
<path d="M975 514.5 Q988 503.5 998.3 493 M984.5 493.8 L998.5 492.8 L997.9 507.2" fill="none" stroke="#161616" stroke-width="2.6" stroke-linecap="round" stroke-linejoin="round" /><path d="M970.5 557.5 L975.5 552.5 Q979 556 985.5 558.5 L1003.8 577 Q1007.5 582.5 1003.5 586 Q999.5 589 995 585.5 L977 566.5 Q975 561 970.5 557.5Z" fill="#8DCB97" stroke="#0c2a12" stroke-width="2.6" stroke-linecap="round" stroke-linejoin="round" /><circle cx="948.2" cy="529.4" r="35.2" fill="#A8D8AF" stroke="#0c2a12" stroke-width="2.6"/><circle cx="948.2" cy="529.4" r="27.2" fill="#D1E8B8" stroke="#0c2a12" stroke-width="2.6"/><path d="M923.7 539.7 L936.5 527.5 M945 528.3 L952.3 533.8 M960.2 532.5 L971.9 519.8" fill="none" stroke="#0c2a12" stroke-width="2.6" stroke-linecap="round" stroke-linejoin="round" /><circle cx="940.6" cy="524.0" r="4.6" fill="#B9DDAF" stroke="#0c2a12" stroke-width="2.6"/><circle cx="956.2" cy="537.0" r="5.0" fill="#B9DDAF" stroke="#0c2a12" stroke-width="2.6"/>
<path d="M257.2 731.7 H266 V802 H312 V803.8 Q312 806.8 309 806.8 H257.2 Q254.2 806.8 254.2 803.8 V734.7 Q254.2 731.7 257.2 731.7Z" fill="#F2C09A" stroke="#3a1f10" stroke-width="2.6" stroke-linecap="round" stroke-linejoin="round" /><path d="M266.5 722.6 H302.9 L321.2 741.6 V795.7 Q321.2 798.7 318.2 798.7 H266.5 Q263 798.7 263 795.7 V725.6 Q263 722.6 266.5 722.6Z" fill="#F5C9A3" stroke="#3a1f10" stroke-width="2.6" stroke-linecap="round" stroke-linejoin="round" /><path d="M302.9 723 V738.6 Q302.9 741.6 305.9 741.6 H321" fill="#F0BE98" stroke="#3a1f10" stroke-width="2.5" stroke-linecap="round" stroke-linejoin="round" /><path d="M274.2 743.7 H290.3 M274.2 753.5 H310.0 M274.2 763.6 H310.2 M274.2 773.5 H310.2 M274.2 783.6 H295.2" fill="none" stroke="#3a1f10" stroke-width="2.5" stroke-linecap="round" stroke-linejoin="round" />
<path d="M611.6 794.6 L609.5 807.2 L633.3 807.2 L630.9 794.6Z" fill="#D2AEDD" stroke="#2a1430" stroke-width="2.3" stroke-linecap="round" stroke-linejoin="round" /><path d="M601.8 807.5 H640.7" fill="none" stroke="#2a1430" stroke-width="3.5" stroke-linecap="round" stroke-linejoin="round" /><rect x="573.7" y="725.4" width="95.4" height="68.8" rx="5.0" fill="#D4B4DF" stroke="#2a1430" stroke-width="2.6" stroke-linejoin="round"/><rect x="578.6" y="731.0" width="85.3" height="51.3" rx="2.0" fill="#ECDFF2" stroke="#2a1430" stroke-width="2.5" stroke-linejoin="round"/><rect x="590.9" y="738.0" width="59.3" height="38.0" rx="2.5" fill="#E7D2EE" stroke="#2a1430" stroke-width="2.5" stroke-linejoin="round"/><path d="M592.5 738 H648.6 Q650.2 738 650.2 739.6 V746.8 H590.9 V739.6 Q590.9 738 592.5 738Z" fill="#CDABDA" stroke="#2a1430" stroke-width="2.5" stroke-linecap="round" stroke-linejoin="round" /><path d="M600.4 754.2 H624.2 M600.4 760.2 H624.2 M600.4 766.1 H622.5" fill="none" stroke="#2a1430" stroke-width="2.1" stroke-linecap="round" stroke-linejoin="round" /><path d="M636 776 H652 V757" fill="none" stroke="#ECDFF2" stroke-width="5.0" stroke-linecap="round" stroke-linejoin="round" /><path d="M634.4 755.6 L651.2 761.6 L646.0 765.4 L653.7 772.1 L649.1 776.0 L642.1 769.0 L639.3 772.5Z" fill="#D9BCE3" stroke="#2a1430" stroke-width="2.1" stroke-linecap="round" stroke-linejoin="round" /><circle cx="621.0" cy="788.2" r="2.6" fill="#2a1430" stroke="#2a1430" stroke-width="0.4"/>
<path d="M911 753.6 L949.5 721 Q952.8 717.8 956 721 L995.6 752 V804.6 H911Z" fill="#F5DB84" stroke="#2a2208" stroke-width="2.6" stroke-linecap="round" stroke-linejoin="round" /><path d="M924 728.5 H982 Q983.3 728.5 983.3 730 V790 H922.6 V730 Q922.6 728.5 924 728.5Z" fill="#FBF5D8" stroke="#2a2208" stroke-width="2.6" stroke-linecap="round" stroke-linejoin="round" /><path d="M933.8 743.2 H972.0 M933.8 752.3 H972.5 M933.8 761.5 H960.1" fill="none" stroke="#2a2208" stroke-width="2.6" stroke-linecap="round" stroke-linejoin="round" /><path d="M910.7 754.5 L949 781 Q953.1 784.5 957 781.3 L995.9 753.5 V802 Q995.9 804.6 993.3 804.6 H913.3 Q910.7 804.6 910.7 802Z" fill="#F7DE87" stroke="#2a2208" stroke-width="2.6" stroke-linecap="round" stroke-linejoin="round" /><path d="M911.5 803.8 L941.9 779 M995.2 803.8 L965.4 778.6" fill="none" stroke="#2a2208" stroke-width="2.5" stroke-linecap="round" stroke-linejoin="round" />
<rect x="247.8" y="956.4" width="82.9" height="54.5" rx="3.5" fill="#F8EB94" stroke="#1c1a05" stroke-width="2.8" stroke-linejoin="round"/><path d="M249.3 958.2 L286.2 988.4 Q289.2 991.1 292.2 988.4 L329.2 958.2" fill="none" stroke="#1c1a05" stroke-width="2.6" stroke-linecap="round" stroke-linejoin="round" /><path d="M249.3 1009.4 L277.2 982.8 M329.2 1009.4 L301.3 982.8" fill="none" stroke="#1c1a05" stroke-width="2.5" stroke-linecap="round" stroke-linejoin="round" />
<path d="M764.3 928.2 Q775 937.5 791.5 941.5 Q794 975 790.5 990 Q784 1007 764.7 1018.4 Q737 1003 728.3 977.4 Q724.5 960 725.4 944.3 Q748 940 764.3 928.2Z" fill="#8FB4E4" stroke="#0e2236" stroke-width="2.6" stroke-linecap="round" stroke-linejoin="round" /><path d="M764.7 937.7 Q774 945.5 786 948.5 Q787 975 784 988 Q778 1000.5 764.7 1009.6 Q744 998 736 976 Q733 962 733.5 951 Q751 947.5 764.7 937.7Z" fill="#B1D5F1" stroke="#0e2236" stroke-width="2.5" stroke-linecap="round" stroke-linejoin="round" /><path d="M749.5 985 L759.2 959.5 L768.8 985 M753 976.5 H765.3 M778.3 959.5 V985" fill="none" stroke="#0e2236" stroke-width="2.6" stroke-linecap="round" stroke-linejoin="round" /><path d="M800.5 963.5 Q794.4 956.5 794.4 947.6 A22 22 0 1 1 805 967 Q799 968.5 793.6 967.8 Q798.5 966 800.5 963.5Z" fill="#AFD9F1" stroke="#0e2236" stroke-width="2.6" stroke-linecap="round" stroke-linejoin="round" /><path d="M808.5 959 L825 937.8" fill="none" stroke="#0e2236" stroke-width="2.3" stroke-linecap="round" stroke-linejoin="round" /><circle cx="810.0" cy="943.5" r="4.3" fill="none" stroke="#0e2236" stroke-width="2.3"/><circle cx="823.2" cy="954.0" r="4.3" fill="none" stroke="#0e2236" stroke-width="2.3"/><path d="M800 1012.5 L826 982" fill="none" stroke="#161616" stroke-width="2.8" stroke-linecap="round" stroke-linejoin="round" /><circle cx="803.8" cy="990.0" r="6.2" fill="none" stroke="#161616" stroke-width="2.8"/><circle cx="823.3" cy="1005.5" r="6.2" fill="none" stroke="#161616" stroke-width="2.8"/><path d="M799.5 971.5 L797.8 976.5" fill="none" stroke="#0e2236" stroke-width="2.3" stroke-linecap="round" stroke-linejoin="round" />
<path d="M300.5 1199.5 L305.5 1194.5 L312.5 1201.5 Q315.5 1201.8 318.5 1204.5 L335 1221 Q338.5 1226 335 1229.5 Q331 1232.5 326.5 1229 L310 1212.5 Q307.5 1209.5 307.2 1206.5Z" fill="#F0873E" stroke="#3b1508" stroke-width="2.6" stroke-linecap="round" stroke-linejoin="round" /><path d="M301 1200 L306 1195 L312.5 1201.5 L307.3 1206.5Z" fill="#F2B48E" stroke="#3b1508" stroke-width="2.3" stroke-linecap="round" stroke-linejoin="round" /><circle cx="279.1" cy="1172.7" r="36.0" fill="#F1B28C" stroke="#3b1508" stroke-width="2.6"/><circle cx="279.1" cy="1172.7" r="28.5" fill="#F8DBBB" stroke="#3b1508" stroke-width="2.6"/><path d="M258.5 1179.5 L270.3 1167.5 L279.3 1176 L289.5 1165.8 L286.5 1162.8 L298.6 1159.5 L295.5 1171.8 L292.6 1168.9 L279.2 1182.3 L270.3 1173.8 L261.8 1182.7 Z" fill="#F1B28C" stroke="#3b1508" stroke-width="2.1" stroke-linecap="round" stroke-linejoin="round" />
<rect x="619.6" y="1152.0" width="6.4" height="60.0" rx="0.0" fill="#C5E1B5" stroke="#0e1a0a" stroke-width="2.5" stroke-linejoin="round"/><path d="M608.4 1217.6 Q609.5 1212 614 1212 H633 Q637.5 1212 638.6 1217.6Z" fill="#A9D892" stroke="#0e1a0a" stroke-width="2.5" stroke-linecap="round" stroke-linejoin="round" /><path d="M597.5 1226 Q598.5 1217.6 604 1217.6 H643.5 Q649 1217.6 649.8 1226Z" fill="#A9D892" stroke="#0e1a0a" stroke-width="2.5" stroke-linecap="round" stroke-linejoin="round" /><path d="M622.7 1137.3 V1143" fill="none" stroke="#0e1a0a" stroke-width="2.3" stroke-linecap="round" stroke-linejoin="round" /><path d="M587 1157.3 L657.5 1142.5" fill="none" stroke="#0e1a0a" stroke-width="3.2" stroke-linecap="round" stroke-linejoin="round" /><circle cx="622.7" cy="1148.5" r="6.0" fill="#B6DDA2" stroke="#0e1a0a" stroke-width="2.6"/><path d="M590.2 1158 L577.8 1188.5 M590.2 1158 L603.3 1188.5 M656.1 1143.6 L643.5 1175 M656.1 1143.6 L669.3 1175" fill="none" stroke="#0e1a0a" stroke-width="2.5" stroke-linecap="round" stroke-linejoin="round" /><path d="M574 1189.2 H608.4 Q605.5 1202.5 591.2 1202.5 Q577 1202.5 574 1189.2Z" fill="#A9D892" stroke="#0e1a0a" stroke-width="2.6" stroke-linecap="round" stroke-linejoin="round" /><path d="M639.3 1175.9 H673 Q670 1188.5 656.2 1188.5 Q642.3 1188.5 639.3 1175.9Z" fill="#A9D892" stroke="#0e1a0a" stroke-width="2.6" stroke-linecap="round" stroke-linejoin="round" />
<path d="M920 1214 H981.5 Q978.5 1220.5 981.3 1227 H920 Q913.3 1226.5 913.3 1220.5 Q913.3 1214.5 920 1214Z" fill="#F9E4CD" stroke="#2a1005" stroke-width="2.6" stroke-linecap="round" stroke-linejoin="round" /><path d="M923 1220.7 H977" fill="none" stroke="#2a1005" stroke-width="2.3" stroke-linecap="round" stroke-linejoin="round" /><path d="M920.5 1138.7 H978 Q983.1 1138.7 983.1 1143.5 V1214 H921 Q913.3 1214.3 913.3 1221 V1146 Q913.3 1138.7 920.5 1138.7Z" fill="#F4AA77" stroke="#2a1005" stroke-width="2.6" stroke-linecap="round" stroke-linejoin="round" /><path d="M922.8 1140 V1213.5" fill="none" stroke="#2a1005" stroke-width="2.3" stroke-linecap="round" stroke-linejoin="round" /><path d="M936.0 1195.8 H969.0 M942.0 1202.5 H960.7" fill="none" stroke="#5a1e08" stroke-width="2.3" stroke-linecap="round" stroke-linejoin="round" /><path d="M951.9 1159.7 L956.4 1169.4 L966.9 1170.6 L959.1 1177.8 L961.2 1188.3 L951.9 1183.1 L942.6 1188.3 L944.7 1177.8 L936.9 1170.6 L947.4 1169.4Z" fill="#F6DF70" stroke="#2a1005" stroke-width="2.5" stroke-linecap="round" stroke-linejoin="round" /><path d="M992.2 1144.3 L994.8 1154.3 L1004.7 1157.2 L996.0 1162.7 L996.3 1173.0 L988.3 1166.4 L978.7 1169.9 L982.5 1160.3 L976.2 1152.2 L986.4 1152.8Z" fill="#F6DF70" stroke="#2a1005" stroke-width="2.5" stroke-linecap="round" stroke-linejoin="round" />
<rect x="422.0" y="1426.5" width="60.4" height="7.4" rx="3.5" fill="#D3B1E1" stroke="#1d0d22" stroke-width="2.6" stroke-linejoin="round"/><path d="M462.5 1364.5 Q484 1371 483.5 1392 Q483 1410 462.5 1419.5" fill="none" stroke="#1d0d22" stroke-width="10.8" stroke-linecap="round" stroke-linejoin="round" /><path d="M462.5 1364.5 Q484 1371 483.5 1392 Q483 1410 462.5 1419.5" fill="none" stroke="#D3B1E1" stroke-width="5.6" stroke-linecap="round" stroke-linejoin="round" /><path d="M430.5 1406 Q436 1418.5 449.5 1423" fill="none" stroke="#1d0d22" stroke-width="9.4" stroke-linecap="round" stroke-linejoin="round" /><path d="M430.5 1406 Q436 1418.5 449.5 1423" fill="none" stroke="#D3B1E1" stroke-width="3.9" stroke-linecap="round" stroke-linejoin="round" /><path d="M444.3 1426.5 Q448 1410 454.6 1410 Q461.5 1410 467.8 1426.5Z" fill="#D3B1E1" stroke="#1d0d22" stroke-width="2.6" stroke-linecap="round" stroke-linejoin="round" /><circle cx="455.4" cy="1417.6" r="1.6" fill="#1d0d22" stroke="#1d0d22" stroke-width="0.4"/><rect x="413.9" y="1399.5" width="33.4" height="6.3" rx="3.0" fill="#D3B1E1" stroke="#1d0d22" stroke-width="2.6" stroke-linejoin="round"/><path d="M433.6 1383.4 L439.9 1389.3 L437.1 1392.8 L430.8 1386.8Z" fill="#DCC0E7" stroke="#1d0d22" stroke-width="2.3" stroke-linecap="round" stroke-linejoin="round" /><path d="M456.0 1346.5 L469.4 1355.6 L444.5 1390.3 L431.1 1379.8Z" fill="#D3B1E1" stroke="#1d0d22" stroke-width="2.6" stroke-linecap="round" stroke-linejoin="round" /><path d="M433.4 1376.8 L446.8 1387.3" fill="none" stroke="#1d0d22" stroke-width="2.3" stroke-linecap="round" stroke-linejoin="round" /><path d="M460.5 1345.5 L467.5 1350.3 L470.6 1345.8 L463.6 1341.0Z" fill="#DCC0E7" stroke="#1d0d22" stroke-width="2.3" stroke-linecap="round" stroke-linejoin="round" /><path d="M464.5 1337.4 L475.7 1345.4 L473.5 1348.6 L462.3 1340.6Z" fill="#E6D2EE" stroke="#1d0d22" stroke-width="2.3" stroke-linecap="round" stroke-linejoin="round" /><circle cx="458.9" cy="1370.4" r="6.3" fill="#D3B1E1" stroke="#1d0d22" stroke-width="2.6"/>
<path d="M840 1378.2 H877.5 Q887.1 1378.2 887.1 1387.8 V1413 Q887.1 1422.5 877.5 1422.5 H873.8 L875 1434.3 L861 1422.8 H840 Q830.4 1422.5 830.4 1413 V1387.8 Q830.4 1378.2 840 1378.2Z" fill="#F9EE9D" stroke="#1c1a05" stroke-width="2.6" stroke-linecap="round" stroke-linejoin="round" /><path d="M802.6 1355.8 H840.7 Q850.2 1355.8 850.2 1365.3 V1391.6 Q850.2 1401.1 840.7 1401.1 H822.1 L806.1 1412.9 L806.8 1401.1 H802.6 Q793.1 1401.1 793.1 1391.6 V1365.3 Q793.1 1355.8 802.6 1355.8Z" fill="#F9EE9D" stroke="#1c1a05" stroke-width="2.6" stroke-linecap="round" stroke-linejoin="round" /><text x="806.45" y="1389.74" font-size="30.3" fill="#1c1a05" style="font-family:'Liberation Sans','Noto Sans CJK SC',sans-serif;font-weight:500">文</text><text x="848.6" y="1413.6" font-size="35.5" fill="#1c1a05" style="font-family:'Liberation Sans','Noto Sans CJK SC',sans-serif;font-weight:500">A</text>
<g transform="translate(1222.7 0)"><path d="M292.9 538.8 Q270.3 530 270.3 511.5 A40 30.5 0 1 1 307.8 542.1 Q298 549.5 287.5 553.3 Q292 546 292.9 538.8Z" fill="#FAEB9C" stroke="#1d1705" stroke-width="2.6" stroke-linecap="round" stroke-linejoin="round" /><path d="M289.2 502.0 H331.9 M289.2 511.9 H332.2 M289.2 522.4 H313.6" fill="none" stroke="#1d1705" stroke-width="2.6" stroke-linecap="round" stroke-linejoin="round" /><path d="M232.1 517.3 Q227 517.5 227.7 521.5 Q233.5 536 241.7 549.2" fill="none" stroke="#1d1705" stroke-width="2.0" stroke-linecap="round" stroke-linejoin="round" /><path d="M233.2 513.7 Q234.6 508.5 240.9 507.6 Q253 521 264 538.8 L281.5 573 L285.3 587.2 L273.1 576.9 L251.3 546.3 Q240.5 529 233.2 513.7 Z" fill="#F8DE7A" stroke="#1d1705" stroke-width="1.9" stroke-linecap="round" stroke-linejoin="round" /><circle cx="233.4" cy="505.4" r="4.3" fill="#F8E391" stroke="#1d1705" stroke-width="1.9"/><path d="M251.3 546.3 L264 538.8 M273.1 576.9 L281.5 573" fill="none" stroke="#1d1705" stroke-width="1.8" stroke-linecap="round" stroke-linejoin="round" /><path d="M224.5 585.6 Q233 580.5 239.1 581.1 Q244.5 581.8 243.6 585 Q242.5 588.5 244.5 590 Q248 591 255.7 586.9 Q260.5 587 264.7 590.1 Q270 591.5 275.5 591.3" fill="none" stroke="#1d1705" stroke-width="2.2" stroke-linecap="round" stroke-linejoin="round" /></g>
<path d="M1838.2 502.8 L1839.0 492.7 L1856.6 492.7 L1857.4 502.8 L1867.3 506.9 L1875.1 500.4 L1887.5 512.8 L1881.0 520.6 L1885.1 530.5 L1895.2 531.3 L1895.2 548.9 L1885.1 549.7 L1881.0 559.6 L1887.5 567.4 L1875.1 579.8 L1867.3 573.3 L1857.4 577.4 L1856.6 587.5 L1839.0 587.5 L1838.2 577.4 L1828.3 573.3 L1820.5 579.8 L1808.1 567.4 L1814.6 559.6 L1810.5 549.7 L1800.4 548.9 L1800.4 531.3 L1810.5 530.5 L1814.6 520.6 L1808.1 512.8 L1820.5 500.4 L1828.3 506.9Z" fill="#7FAEE5" stroke="#0e2035" stroke-width="2.6" stroke-linecap="round" stroke-linejoin="round" stroke-miterlimit="2"/><circle cx="1847.8" cy="540.1" r="26.0" fill="#fefefe" stroke="#0e2035" stroke-width="2.6"/><path d="M1822.5 533 H1847.8 V523.3 L1868 540.1 L1847.8 557 V547.4 H1822.5" fill="#7FAEE5" stroke="#0e2035" stroke-width="2.6" stroke-linecap="round" stroke-linejoin="round" /><path d="M1822.6 534.6 V545.8" fill="none" stroke="#7FAEE5" stroke-width="3.5" stroke-linecap="round" stroke-linejoin="round" />
<path d="M2186.3 517.1 V525.9 M2166.3 535.1 V528.5 Q2166.3 525.9 2169 525.9 H2203.5 Q2206.2 525.9 2206.2 528.5 V535.1 M2206.2 552.7 V560.8 M2187 569.2 V563.4 Q2187 560.8 2189.6 560.8 H2219.6 Q2222.2 560.8 2222.2 563.4 V569.2 M2151.4 555.8 V569.2" fill="none" stroke="#2a1a10" stroke-width="2.5" stroke-linecap="round" stroke-linejoin="round" /><path d="M2161.4 504.9 H2144.5 Q2142.2 504.9 2142.2 507.2 V560 M2137.4 554.5 L2142.2 560.6 L2147 554.5" fill="none" stroke="#2a1a10" stroke-width="2.5" stroke-linecap="round" stroke-linejoin="round" /><path d="M2229.9 560.4 V506.8 Q2229.9 504.5 2227.6 504.5 H2210.5 M2215.5 499.8 L2209.8 504.5 L2215.5 509.3" fill="none" stroke="#2a1a10" stroke-width="2.5" stroke-linecap="round" stroke-linejoin="round" /><rect x="2168.6" y="492.6" width="35.3" height="24.5" rx="3.0" fill="#F2967B" stroke="#2a1a10" stroke-width="2.6" stroke-linejoin="round"/><rect x="2154.1" y="535.1" width="24.1" height="18.0" rx="2.5" fill="#F7B96E" stroke="#2a1a10" stroke-width="2.6" stroke-linejoin="round"/><rect x="2193.9" y="535.1" width="24.1" height="17.6" rx="2.5" fill="#F3A86C" stroke="#2a1a10" stroke-width="2.6" stroke-linejoin="round"/><rect x="2137.6" y="569.2" width="24.5" height="17.6" rx="2.5" fill="#F8DE8F" stroke="#2a1a10" stroke-width="2.6" stroke-linejoin="round"/><rect x="2174.0" y="569.2" width="24.1" height="17.6" rx="2.5" fill="#F1A576" stroke="#2a1a10" stroke-width="2.6" stroke-linejoin="round"/><rect x="2210.8" y="569.2" width="24.5" height="17.6" rx="2.5" fill="#F1A576" stroke="#2a1a10" stroke-width="2.6" stroke-linejoin="round"/>
<path d="M1463.9 753 L1500 722.3 Q1503.3 718.9 1506.6 722.3 L1543.1 752 V803.3 H1463.9Z" fill="#EEA59A" stroke="#3a1510" stroke-width="2.6" stroke-linecap="round" stroke-linejoin="round" /><path d="M1476.4 729.6 H1530.6 Q1532.1 729.6 1532.1 731.2 V790 H1474.9 V731.2 Q1474.9 729.6 1476.4 729.6Z" fill="#F8E7E3" stroke="#3a1510" stroke-width="2.6" stroke-linecap="round" stroke-linejoin="round" /><path d="M1493.3 737.4 L1503.3 747.4 L1513.3 737.4 L1518.0 742.1 L1508.0 752.1 L1518.0 762.1 L1513.3 766.8 L1503.3 756.8 L1493.3 766.8 L1488.6 762.1 L1498.6 752.1 L1488.6 742.1Z" fill="#E8858B" stroke="#3a1510" stroke-width="2.3" stroke-linecap="round" stroke-linejoin="round" /><path d="M1463.7 754 L1499.5 780 Q1503.7 783.8 1507.5 780.3 L1543.3 753 V800.7 Q1543.3 803.3 1540.7 803.3 H1466.3 Q1463.7 803.3 1463.7 800.7Z" fill="#F0A79C" stroke="#3a1510" stroke-width="2.6" stroke-linecap="round" stroke-linejoin="round" /><path d="M1464.5 802.3 L1494.2 777.7" fill="none" stroke="#3a1510" stroke-width="2.5" stroke-linecap="round" stroke-linejoin="round" /><path d="M1545.5 797 L1549.5 793 L1565.5 809.5 Q1567.5 812.5 1565.3 814.5 Q1563 816.3 1560.5 814 Z" fill="#E7918A" stroke="#3a1510" stroke-width="2.5" stroke-linecap="round" stroke-linejoin="round" /><circle cx="1533.5" cy="780.5" r="19.6" fill="#E6A99D" stroke="#3a1510" stroke-width="2.6"/><circle cx="1533.5" cy="780.5" r="14.7" fill="#F5D5C8" stroke="#3a1510" stroke-width="2.5"/>
<path d="M1802.3 771.8 A46.6 46.6 0 0 1 1883.2 734.9 L1887.5 725.8 L1889.6 749.3 L1867.1 743.3 L1873.1 740.8 A35.2 35.2 0 0 0 1813.7 770.4 Z" fill="#A4D49B" stroke="#10240e" stroke-width="2.6" stroke-linecap="round" stroke-linejoin="round" /><path d="M1894.9 761.2 A46.6 46.6 0 0 1 1814.0 797.3 L1811.0 807.5 L1807.5 782.9 L1830.0 787.8 L1824.1 791.4 A35.2 35.2 0 0 0 1883.6 762.4 Z" fill="#A4D49B" stroke="#10240e" stroke-width="2.6" stroke-linecap="round" stroke-linejoin="round" /><rect x="1826.8" y="750.7" width="44.9" height="30.8" rx="3.0" fill="#C5E3AA" stroke="#10240e" stroke-width="2.6" stroke-linejoin="round"/><path d="M1828.3 752.5 L1846.2 768.1 Q1849.2 770.8 1852.2 768.1 L1870.2 752.5" fill="none" stroke="#10240e" stroke-width="2.4" stroke-linecap="round" stroke-linejoin="round" /><path d="M1828.3 780.0 L1842.7 765.6 M1870.2 780.0 L1855.8 765.6" fill="none" stroke="#10240e" stroke-width="2.3" stroke-linecap="round" stroke-linejoin="round" />
<path d="M2186.1 765.9 C2176 754 2168 747.8 2159.5 747.8 C2149 747.8 2143.2 756 2143.2 766 C2143.2 776 2149 784 2159.5 784 C2168 784 2176 778 2186.1 765.9 C2196 754 2204 747.8 2212.1 747.8 C2223 747.8 2229 756 2229 766 C2229 776 2223 784 2212.1 784 C2204 784 2196 778 2186.1 765.9 Z" fill="none" stroke="#24162f" stroke-width="10.8" stroke-linecap="round" stroke-linejoin="round" /><path d="M2186.1 765.9 C2176 754 2168 747.8 2159.5 747.8 C2149 747.8 2143.2 756 2143.2 766 C2143.2 776 2149 784 2159.5 784 C2168 784 2176 778 2186.1 765.9 C2196 754 2204 747.8 2212.1 747.8 C2223 747.8 2229 756 2229 766 C2229 776 2223 784 2212.1 784 C2204 784 2196 778 2186.1 765.9 Z" fill="none" stroke="#AA96D5" stroke-width="5.8" stroke-linecap="round" stroke-linejoin="round" /><path d="M2202.30 781.11 L2200.79 780.18 L2199.26 779.12 L2197.72 777.93 L2196.15 776.60 L2194.55 775.15 L2192.93 773.56 L2191.27 771.84 L2189.59 769.99 L2187.86 768.01 L2186.10 765.90 L2184.30 763.82 L2182.55 761.86 L2180.83 760.03 L2179.15 758.32 L2177.51 756.74 L2175.89 755.29 L2174.29 753.96 L2172.72 752.76 L2171.17 751.69 L2169.63 750.74" fill="none" stroke="#24162f" stroke-width="10.8" stroke-linejoin="round" stroke-linecap="butt"/><path d="M2207.24 783.28 L2205.28 782.59 L2203.30 781.66 L2201.30 780.51 L2199.26 779.12 L2197.20 777.50 L2195.09 775.65 L2192.93 773.56 L2190.71 771.24 L2188.44 768.69 L2186.10 765.90 L2183.71 763.15 L2181.40 760.63 L2179.15 758.32 L2176.96 756.24 L2174.82 754.39 L2172.72 752.76 L2170.65 751.36 L2168.61 750.19 L2166.58 749.25 L2164.56 748.54" fill="none" stroke="#AA96D5" stroke-width="5.8" stroke-linejoin="round" stroke-linecap="butt"/>
<path d="M1515 977.1 H1550.6 Q1559.6 977.1 1559.6 986.1 V1005.4 Q1559.6 1014.4 1550.6 1014.4 H1549.1 L1550 1024.3 L1536.6 1014.4 H1515 Q1506 1014.4 1506 1005.4 V986.1 Q1506 977.1 1515 977.1Z" fill="#A5D3F1" stroke="#12313c" stroke-width="2.6" stroke-linecap="round" stroke-linejoin="round" /><path d="M1526.1 998.1 L1529.6 995.0 L1535.0 1000.7 L1547.5 986.0 L1550.7 989.2 L1535.4 1007.4Z" fill="#B9BBEA" stroke="#12313c" stroke-width="2.1" stroke-linecap="round" stroke-linejoin="round" /><path d="M1477.1 947.4 H1524.8 Q1533.8 947.4 1533.8 956.4 V982.8 Q1533.8 991.8 1524.8 991.8 H1496.5 L1479.9 1005.2 L1481.1 991.8 H1477.1 Q1468.1 991.8 1468.1 982.8 V956.4 Q1468.1 947.4 1477.1 947.4Z" fill="#BAE4F4" stroke="#12313c" stroke-width="2.6" stroke-linecap="round" stroke-linejoin="round" /><path d="M1481.8 964.5 H1519.4 M1481.8 975.5 H1503.8" fill="none" stroke="#1d4a5a" stroke-width="2.6" stroke-linecap="round" stroke-linejoin="round" />
<path d="M1987 936.2 H2030.6 L2049.5 954.8 V1018 Q2049.5 1022.5 2045 1022.5 H1987 Q1982.5 1022.5 1982.5 1018 V940.7 Q1982.5 936.2 1987 936.2Z" fill="#F3D7B8" stroke="#2a1a0e" stroke-width="2.8" stroke-linecap="round" stroke-linejoin="round" /><path d="M2030.6 936.8 V951 Q2030.6 954.8 2034.4 954.8 H2049" fill="#E4C0A2" stroke="#2a1a0e" stroke-width="2.5" stroke-linecap="round" stroke-linejoin="round" /><path d="M1993.4 959.7 H2016.5 M1993.4 969.5 H2030.2 M1993.4 979.3 H2019.0 M1993.4 989.2 H2015.0 M1993.4 999.0 H2015.0 M1993.4 1008.8 H2016.0" fill="none" stroke="#4a2810" stroke-width="2.5" stroke-linecap="round" stroke-linejoin="round" /><path d="M2049 1007 L2053 1003.5 L2067.5 1019.5 Q2069 1022.5 2066.8 1024.3 Q2064.5 1025.8 2062.3 1023.5Z" fill="#9EB69B" stroke="#2a1a0e" stroke-width="2.5" stroke-linecap="round" stroke-linejoin="round" /><circle cx="2039.3" cy="989.9" r="19.1" fill="#C7CEAD" stroke="#2a1a0e" stroke-width="2.6"/><circle cx="2039.3" cy="989.9" r="13.8" fill="#F2DBBB" stroke="#2a1a0e" stroke-width="2.5"/><path d="M2040.5 981.5 Q2047.5 982.5 2048 990" fill="none" stroke="#2a1a0e" stroke-width="1.9" stroke-linecap="round" stroke-linejoin="round" />
<path d="M1469 1233.9 Q1469.5 1217 1480 1210.5 Q1486 1207 1492.2 1204.4 L1496 1202.5 L1504 1212 L1512 1202.5 L1515.4 1204.4 Q1523 1207.5 1529 1211 Q1538.5 1218 1539.2 1233.9 Q1504 1236.5 1469 1233.9Z" fill="#A97C65" stroke="#2a170c" stroke-width="2.6" stroke-linecap="round" stroke-linejoin="round" /><path d="M1494 1203.5 L1497.2 1200 L1504 1207 L1511 1200 L1513.8 1203.5 L1509 1216 L1504 1210.5 L1499 1216Z" fill="#fbfbf8" stroke="#2a170c" stroke-width="2.1" stroke-linecap="round" stroke-linejoin="round" /><path d="M1492.2 1204.4 L1504.1 1234.6 L1515.4 1204.4" fill="none" stroke="#2a170c" stroke-width="2.3" stroke-linecap="round" stroke-linejoin="round" /><path d="M1499.5 1217 L1504 1212 L1508.5 1217 L1504.1 1231Z" fill="#8f7a6c" stroke="#2a170c" stroke-width="1.8" stroke-linecap="round" stroke-linejoin="round" /><path d="M1487.5 1178 Q1485.5 1180 1486 1185 Q1487.5 1194 1493 1198 Q1498.5 1202 1503.7 1202 Q1509 1202 1514.5 1198 Q1520 1193.5 1521.5 1185 Q1522.5 1180 1520 1176.5 Q1504 1181 1487.5 1178Z" fill="#FBEBCB" stroke="#2a170c" stroke-width="2.6" stroke-linecap="round" stroke-linejoin="round" /><path d="M1487.6 1166.5 V1178.4 Q1493 1175.8 1498 1177.3 Q1504 1179 1510 1177 Q1515.5 1175 1519.9 1175.6 V1166.5 L1504 1170.5Z" fill="#8C6351" stroke="#2a170c" stroke-width="2.5" stroke-linecap="round" stroke-linejoin="round" /><path d="M1470.8 1162.6 L1501.5 1150.8 Q1503.4 1150 1505.3 1150.8 L1531.5 1161.6 L1505.5 1169.3 Q1504.1 1169.8 1502.7 1169.3Z" fill="#9B705B" stroke="#2a170c" stroke-width="2.6" stroke-linecap="round" stroke-linejoin="round" /><path d="M1476 1165 V1179" fill="none" stroke="#2a170c" stroke-width="2.3" stroke-linecap="round" stroke-linejoin="round" /><path d="M1474.7 1179 H1477.4 L1479 1187.5 H1472.8Z" fill="#f5efe6" stroke="#2a170c" stroke-width="1.9" stroke-linecap="round" stroke-linejoin="round" /><path d="M1537.2 1177.2 Q1530.9 1170.5 1530.9 1161.9 A21.6 21.6 0 1 1 1542.5 1181 Q1536.5 1183.2 1530.4 1183 Q1535.5 1180.5 1537.2 1177.2Z" fill="#F1C58E" stroke="#2a170c" stroke-width="2.6" stroke-linecap="round" stroke-linejoin="round" /><path d="M1546 1155.5 Q1546.5 1149.5 1552 1149.3 Q1557.5 1149.3 1557.5 1154 Q1557.5 1157.5 1553.8 1161 Q1550.8 1164 1550.8 1168" fill="none" stroke="#2a170c" stroke-width="4.0" stroke-linecap="round" stroke-linejoin="round" /><path d="M1546 1155.5 Q1546.5 1149.5 1552 1149.3 Q1557.5 1149.3 1557.5 1154 Q1557.5 1157.5 1553.8 1161 Q1550.8 1164 1550.8 1168" fill="none" stroke="#F1C58E" stroke-width="1.2" stroke-linecap="round" stroke-linejoin="round" /><circle cx="1551.0" cy="1174.3" r="2.3" fill="#F1C58E" stroke="#2a170c" stroke-width="1.8"/>
<path d="M1857.5 1146.5 Q1861.5 1142.5 1866 1146.5 L1889 1169.5 Q1895.5 1176.5 1892 1183 L1848.2 1230.3 H1826 Q1822.5 1230.3 1820 1227.5 L1804.5 1209 Q1800.5 1203.5 1805 1199 Z" fill="#fdfdfd" stroke="#161616" stroke-width="2.6" stroke-linecap="round" stroke-linejoin="round" /><path d="M1859.5 1144.8 L1861.5 1143.5 L1864.0 1144.8 L1890.3 1173.5 L1850.3 1212.7 L1821.2 1183.6Z" fill="#C9CCCE" stroke="#161616" stroke-width="0.1" stroke-linecap="round" stroke-linejoin="round" /><path d="M1890.3 1173.5 L1893.2 1180.0 L1855.9 1220.5 L1850.3 1212.7Z" fill="#9BB4CF" stroke="#161616" stroke-width="0.1" stroke-linecap="round" stroke-linejoin="round" /><path d="M1850.3 1212.7 L1855.9 1220.5 L1848.2 1230.3 L1835.6 1230.3Z" fill="#DAE4EB" stroke="#161616" stroke-width="0.1" stroke-linecap="round" stroke-linejoin="round" /><path d="M1821.2 1183.6 L1850.3 1212.7 L1890.3 1173.5 M1850.3 1212.7 L1835.6 1230.3 M1850.3 1212.7 L1855.9 1220.5" fill="none" stroke="#161616" stroke-width="2.5" stroke-linecap="round" stroke-linejoin="round" /><path d="M1857.5 1146.5 Q1861.5 1142.5 1866 1146.5 L1889 1169.5 Q1895.5 1176.5 1892 1183 L1848.2 1230.3 H1826 Q1822.5 1230.3 1820 1227.5 L1804.5 1209 Q1800.5 1203.5 1805 1199 Z" fill="none" stroke="#161616" stroke-width="2.6" stroke-linecap="round" stroke-linejoin="round" /><path d="M1823 1230.6 H1889.6" fill="none" stroke="#161616" stroke-width="2.6" stroke-linecap="round" stroke-linejoin="round" />
<path d="M2160 1213.5 H2220 Q2216.5 1223.5 2221.5 1233.4 H2160 Q2150 1232.5 2150 1223.5 Q2150 1214 2160 1213.5Z" fill="#F6F4E5" stroke="#1c1c1c" stroke-width="2.6" stroke-linecap="round" stroke-linejoin="round" /><path d="M2160 1220.1 H2217 M2160 1226.8 H2217.5" fill="none" stroke="#1c1c1c" stroke-width="2.3" stroke-linecap="round" stroke-linejoin="round" /><path d="M2162 1144.4 H2218 Q2221.9 1144.4 2221.9 1148.3 V1213.5 H2160.5 Q2150 1214 2150 1224 V1156.4 Q2150 1144.4 2162 1144.4Z" fill="#CACACA" stroke="#1c1c1c" stroke-width="2.6" stroke-linecap="round" stroke-linejoin="round" /><path d="M2161.6 1145 H2151.5 Q2150 1156 2150 1222 Q2151.5 1214 2161.6 1213.5Z" fill="#B2B2B2" stroke="none" stroke-width="0.0" stroke-linecap="round" stroke-linejoin="round" /><path d="M2161.6 1145.5 V1213" fill="none" stroke="#1c1c1c" stroke-width="2.5" stroke-linecap="round" stroke-linejoin="round" /><rect x="2173.8" y="1161.2" width="33.7" height="9.1" rx="1.0" fill="#E4E4E0" stroke="#1c1c1c" stroke-width="2.3" stroke-linejoin="round"/><path d="M2179.8 1178.7 H2200.1" fill="none" stroke="#1c1c1c" stroke-width="2.3" stroke-linecap="round" stroke-linejoin="round" /><path d="M2162 1144.4 H2218 Q2221.9 1144.4 2221.9 1148.3 V1213.5 H2160.5 Q2150 1214 2150 1224 V1156.4 Q2150 1144.4 2162 1144.4Z" fill="none" stroke="#1c1c1c" stroke-width="2.6" stroke-linecap="round" stroke-linejoin="round" />
<path d="M1806.9 1353.3 V1407 H1832.5" fill="none" stroke="#161616" stroke-width="2.6" stroke-linecap="round" stroke-linejoin="round" /><path d="M1817.1 1392.6 L1829.7 1373.7 L1843.4 1382.1 L1857.4 1362.4" fill="none" stroke="#1d3020" stroke-width="2.3" stroke-linecap="round" stroke-linejoin="round" /><circle cx="1817.1" cy="1392.6" r="4.2" fill="#E9AA9A" stroke="#1d3020" stroke-width="2.1"/><circle cx="1829.7" cy="1373.7" r="4.4" fill="#CADDC9" stroke="#1d3020" stroke-width="2.1"/><circle cx="1843.4" cy="1382.1" r="4.4" fill="#B9D9C1" stroke="#1d3020" stroke-width="2.1"/><circle cx="1857.4" cy="1362.4" r="4.6" fill="#EFE19C" stroke="#1d3020" stroke-width="2.1"/><path d="M1847.9 1440.3 H1900.2" fill="none" stroke="#161616" stroke-width="2.6" stroke-linecap="round" stroke-linejoin="round" /><path d="M1851.8 1440 V1425 Q1851.8 1423.1 1853.7 1423.1 H1860.8 Q1862.7 1423.1 1862.7 1425 V1440" fill="#EFB2A2" stroke="#5a2a1a" stroke-width="2.3" stroke-linecap="round" stroke-linejoin="round" /><path d="M1868.6 1440 V1412.7 Q1868.6 1410.8 1870.5 1410.8 H1877.6 Q1879.5 1410.8 1879.5 1412.7 V1440" fill="#F6DD82" stroke="#4a3a10" stroke-width="2.3" stroke-linecap="round" stroke-linejoin="round" /><path d="M1884.4 1440 V1399.1 Q1884.4 1397.2 1886.3 1397.2 H1894.1 Q1896 1397.2 1896 1399.1 V1440" fill="#A9D5A1" stroke="#1f3a1f" stroke-width="2.3" stroke-linecap="round" stroke-linejoin="round" /><path d="M1844.5 1402.5 Q1860 1378 1896 1353.6 Q1899.6 1352.3 1898.6 1356 Q1886 1389 1853.5 1412.5 Z" fill="#B5A1D9" stroke="#1a1424" stroke-width="2.5" stroke-linecap="round" stroke-linejoin="round" /><path d="M1844.5 1402.5 L1853.5 1412.5 L1841.5 1421 L1834.5 1414 Z" fill="#C6CED3" stroke="#1a1424" stroke-width="2.3" stroke-linecap="round" stroke-linejoin="round" /><path d="M1846.7 1400.5 L1855.3 1410.5" fill="none" stroke="#e8ecee" stroke-width="1.4" stroke-linecap="round" stroke-linejoin="round" /><path d="M1834.5 1414 L1841.5 1421 Q1843.5 1433 1831 1439 Q1818 1443.5 1806.2 1434.7 Q1814.5 1434.5 1818 1427 Q1821.5 1415.5 1834.5 1414Z" fill="url(#brg)" stroke="#1a1424" stroke-width="2.5" stroke-linecap="round" stroke-linejoin="round" />
<g transform="translate(1088.4 62.4) rotate(116.7)"><path d="M9 -11.9 H82.5 L108.6 0 L82.5 11.9 H9 Q0 11.9 0 2.9 V-2.9 Q0 -11.9 9 -11.9 Z" fill="#dedede" stroke="#dedede" stroke-width="25.5" stroke-linecap="round" stroke-linejoin="round" /></g><g transform="translate(1120.5 146.8) rotate(152)"><path d="M9 -12.3 H84.4 L111.1 0 L84.4 12.3 H9 Q0 12.3 0 3.3 V-3.3 Q0 -12.3 9 -12.3 Z" fill="#dedede" stroke="#dedede" stroke-width="25.5" stroke-linecap="round" stroke-linejoin="round" /></g><g transform="translate(1088.4 62.4) rotate(116.7)"><path d="M9 -11.9 H82.5 L108.6 0 L82.5 11.9 H9 Q0 11.9 0 2.9 V-2.9 Q0 -11.9 9 -11.9 Z" fill="#ffffff" stroke="#ffffff" stroke-width="22.5" stroke-linecap="round" stroke-linejoin="round" /></g><g transform="translate(1120.5 146.8) rotate(152)"><path d="M9 -12.3 H84.4 L111.1 0 L84.4 12.3 H9 Q0 12.3 0 3.3 V-3.3 Q0 -12.3 9 -12.3 Z" fill="#ffffff" stroke="#ffffff" stroke-width="22.5" stroke-linecap="round" stroke-linejoin="round" /></g><g transform="translate(1088.4 62.4) rotate(116.7)"><path d="M19.0 -11.9 H82.5 V11.9 H19.0 Z" fill="#5FB08C" stroke="#3a2a1a" stroke-width="1.8" stroke-linecap="round" stroke-linejoin="round" /><path d="M21 -6.0 H81.5" fill="none" stroke="#2f7a5a" stroke-width="1.8" stroke-linecap="round" stroke-linejoin="round" /><path d="M21 0.0 H81.5" fill="none" stroke="#2f7a5a" stroke-width="1.8" stroke-linecap="round" stroke-linejoin="round" /><path d="M21 6.0 H81.5" fill="none" stroke="#2f7a5a" stroke-width="1.8" stroke-linecap="round" stroke-linejoin="round" /><path d="M82.5 -11.9 L108.6 0 L82.5 11.9 Q86.5 6.0 82.5 0 Q86.5 -6.0 82.5 -11.9 Z" fill="#F6D58E" stroke="#3a2a1a" stroke-width="1.8" stroke-linecap="round" stroke-linejoin="round" /><path d="M99.4 -4.2 L108.6 0 L99.4 4.2 Z" fill="#4f4a48" stroke="#3a2a1a" stroke-width="1.4" stroke-linecap="round" stroke-linejoin="round" /><path d="M14 -11.9 H19.5 V11.9 H14 Z" fill="#CBCCB2" stroke="#3a2a1a" stroke-width="1.8" stroke-linecap="round" stroke-linejoin="round" /><path d="M14 -11.9 H9 Q0 -11.9 0 -2.9 V2.9 Q0 11.9 9 11.9 H14 Z" fill="#F28E88" stroke="#7a3a34" stroke-width="1.8" stroke-linecap="round" stroke-linejoin="round" /></g><g transform="translate(1120.5 146.8) rotate(152)"><path d="M19.0 -12.3 H84.4 V12.3 H19.0 Z" fill="#F3CE78" stroke="#3a2a1a" stroke-width="1.8" stroke-linecap="round" stroke-linejoin="round" /><path d="M21 -4.1 H83.4" fill="none" stroke="#6a4a10" stroke-width="1.8" stroke-linecap="round" stroke-linejoin="round" /><path d="M21 4.1 H83.4" fill="none" stroke="#6a4a10" stroke-width="1.8" stroke-linecap="round" stroke-linejoin="round" /><path d="M84.4 -12.3 L111.1 0 L84.4 12.3 Q88.4 6.2 84.4 0 Q88.4 -6.2 84.4 -12.3 Z" fill="#F6D58E" stroke="#3a2a1a" stroke-width="1.8" stroke-linecap="round" stroke-linejoin="round" /><path d="M101.7 -4.4 L111.1 0 L101.7 4.4 Z" fill="#4f4a48" stroke="#3a2a1a" stroke-width="1.4" stroke-linecap="round" stroke-linejoin="round" /><path d="M14 -12.3 H19.5 V12.3 H14 Z" fill="#CBCCB2" stroke="#3a2a1a" stroke-width="1.8" stroke-linecap="round" stroke-linejoin="round" /><path d="M14 -12.3 H9 Q0 -12.3 0 -3.3 V3.3 Q0 12.3 9 12.3 H14 Z" fill="#F28E88" stroke="#7a3a34" stroke-width="1.8" stroke-linecap="round" stroke-linejoin="round" /></g>
<path d="M2238.8 126.1 L2241.5 117 L2245.2 107.5 Q2272 96 2300 100.5 Q2312 78 2338.6 70.3 L2344.8 78.5 L2354 80 L2360.8 85 L2383.5 143 L2325 166 Q2322.5 172 2318.5 169.5 L2261.5 185.8 Z" fill="#dddddd" stroke="#dddddd" stroke-width="19.5" stroke-linecap="round" stroke-linejoin="round" /><path d="M2238.8 126.1 L2241.5 117 L2245.2 107.5 Q2272 96 2300 100.5 Q2312 78 2338.6 70.3 L2344.8 78.5 L2354 80 L2360.8 85 L2383.5 143 L2325 166 Q2322.5 172 2318.5 169.5 L2261.5 185.8 Z" fill="#ffffff" stroke="#ffffff" stroke-width="17.0" stroke-linecap="round" stroke-linejoin="round" /><path d="M2238.8 126.1 L2261.5 185.4 L2318.5 169 Q2322 171.5 2325 166 L2383 142.9 L2360.3 84.6 L2300 110 Z" fill="#6CAF88" stroke="#2d5c3f" stroke-width="2.1" stroke-linecap="round" stroke-linejoin="round" /><path d="M2241.2 118.2 L2264.5 176.5 Q2296 160.5 2321.5 163.5 L2300 106Z" fill="#EFD796" stroke="#5a4210" stroke-width="1.9" stroke-linecap="round" stroke-linejoin="round" /><path d="M2338 77 L2351.4 79.2 L2376.1 138.9 Q2343 145 2322 163.5 L2305 100Z" fill="#EFD796" stroke="#5a4210" stroke-width="1.9" stroke-linecap="round" stroke-linejoin="round" /><path d="M2245.2 108.3 Q2272 97 2300 101.4 L2321.8 162.6 Q2296 156 2268.4 163.6 Z" fill="#F4DD9A" stroke="#5a4210" stroke-width="2.1" stroke-linecap="round" stroke-linejoin="round" /><path d="M2300 101.4 Q2312 79.5 2338.6 70.8 L2363.3 128.1 Q2336 137 2321.8 162.6 Z" fill="#F6DD97" stroke="#5a4210" stroke-width="2.1" stroke-linecap="round" stroke-linejoin="round" /><g transform="translate(2264.5 118) rotate(-8)"><rect x="-7.0" y="-5.0" width="14.0" height="10.0" rx="1.5" fill="#5DAE86" stroke="#2d6c4a" stroke-width="1.8" stroke-linejoin="round"/></g><path d="M2277.5 110 Q2285 108 2292 110.5 M2279.5 118.5 Q2287 116.5 2296.5 120 M2267 132 Q2283 124.5 2299 129 M2270 140.5 Q2287 133 2303.5 137.5 M2273 150 Q2290 142.5 2307 146.5" fill="none" stroke="#6a5218" stroke-width="1.9" stroke-linecap="round" stroke-linejoin="round" /><path d="M2308.5 103.5 Q2318 90.5 2334.5 84.5 M2312 113.5 Q2322 100.5 2338.5 94.5 M2316 122.5 Q2326 110.5 2342 104" fill="none" stroke="#6a5218" stroke-width="1.9" stroke-linecap="round" stroke-linejoin="round" />
<path d="M110.9 1137.1 L138.6 1169.6 L97.1 1159.4 L135.9 1141.5 L112.7 1179.9Z" fill="#D8B7E4" stroke="#160c1c" stroke-width="3.3" stroke-linecap="round" stroke-linejoin="round" fill-rule="nonzero"/>
<path d="M1333.6 1142.4 L1361.3 1174.9 L1319.8 1164.7 L1358.6 1146.8 L1335.4 1185.2Z" fill="#D8B7E4" stroke="#160c1c" stroke-width="3.3" stroke-linecap="round" stroke-linejoin="round" fill-rule="nonzero"/>
<text x="165.0" y="640.9" font-size="40.0" textLength="243.1" lengthAdjust="spacingAndGlyphs" class="t" fill="#161616">母语专家润色</text>
<text x="489.5" y="641.7" font-size="38.8" textLength="260.4" lengthAdjust="spacingAndGlyphs" class="t" fill="#161616">Cover Letter撰写</text>
<text x="835.2" y="640.1" font-size="36.8" textLength="240.6" lengthAdjust="spacingAndGlyphs" class="t" fill="#161616">图片/图表优化</text>
<text x="170.3" y="860.3" font-size="42.6" textLength="240.8" lengthAdjust="spacingAndGlyphs" class="t" fill="#161616">稿件格式修改</text>
<text x="504.1" y="860.5" font-size="41.6" textLength="238.6" lengthAdjust="spacingAndGlyphs" class="t" fill="#161616">协助提交稿件</text>
<text x="832.9" y="860.4" font-size="41.8" textLength="243.5" lengthAdjust="spacingAndGlyphs" class="t" fill="#161616">投稿前咨询信</text>
<text x="169.9" y="1069.9" font-size="41.3" textLength="243.5" lengthAdjust="spacingAndGlyphs" class="t" fill="#161616">投稿前咨询信</text>
<text x="513.4" y="1068.7" font-size="39.6" textLength="546.5" lengthAdjust="spacingAndGlyphs" class="t" fill="#161616">iThenticate查重+AI检测报告</text>
<text x="172.9" y="1274.9" font-size="39.8" textLength="239.5" lengthAdjust="spacingAndGlyphs" class="t" fill="#383838">全程学术指导</text>
<text x="523.2" y="1277.3" font-size="41.2" textLength="199.5" lengthAdjust="spacingAndGlyphs" class="t" fill="#161616">投稿前评估</text>
<text x="834.2" y="1277.3" font-size="41.2" textLength="244.9" lengthAdjust="spacingAndGlyphs" class="t" fill="#161616">投稿期刊推荐</text>
<text x="286.1" y="1484.0" font-size="40.9" textLength="326.9" lengthAdjust="spacingAndGlyphs" class="t" fill="#161616">科学深度评估报告</text>
<text x="758.2" y="1483.9" font-size="40.9" textLength="164.4" lengthAdjust="spacingAndGlyphs" class="t" fill="#161616">专业翻译</text>
<text x="1388.6" y="641.3" font-size="39.7" textLength="244.2" lengthAdjust="spacingAndGlyphs" class="t" fill="#161616">语言无死角润色</text>
<text x="1725.3" y="641.4" font-size="39.7" textLength="246.3" lengthAdjust="spacingAndGlyphs" class="t" fill="#161616">行文逻辑优化</text>
<text x="2062.2" y="642.8" font-size="41.3" textLength="248.0" lengthAdjust="spacingAndGlyphs" class="t" fill="#161616">文章结构调整</text>
<text x="1431.0" y="863.0" font-size="41.1" textLength="162.7" lengthAdjust="spacingAndGlyphs" class="t" fill="#161616">拒稿分析</text>
<text x="1765.7" y="864.4" font-size="42.7" textLength="163.9" lengthAdjust="spacingAndGlyphs" class="t" fill="#161616">拒稿重投</text>
<text x="2102.8" y="864.3" font-size="42.9" textLength="167.7" lengthAdjust="spacingAndGlyphs" class="t" fill="#161616">无限重修</text>
<text x="1387.9" y="1075.0" font-size="40.7" textLength="252.8" lengthAdjust="spacingAndGlyphs" class="t" fill="#161616">多轮回复信审查</text>
<text x="1881.8" y="1072.7" font-size="38.1" textLength="277.0" lengthAdjust="spacingAndGlyphs" class="t" fill="#3a3633">小领域专家匹配</text>
<text x="1430.0" y="1284.7" font-size="42.0" textLength="165.8" lengthAdjust="spacingAndGlyphs" class="t" fill="#161616">专家解疑</text>
<text x="1729.0" y="1492.9" font-size="39.7" textLength="251.9" lengthAdjust="spacingAndGlyphs" class="t" fill="#161616">科研插图制作</text>
<text x="1733.6" y="1285.9" font-size="43.4" textLength="606" lengthAdjust="spacingAndGlyphs" class="t" fill="#161616">字数缩减（根据需求个性化定制）</text>
<path d="M425.0 604.0 L474.0 604.0 M457.0 616.3 L474.0 604.0 L457.0 591.7" fill="none" stroke="#161616" stroke-width="3.3" stroke-linecap="round" stroke-linejoin="round"/>
<path d="M767.8 604.0 L818.0 604.0 M801.0 616.3 L818.0 604.0 L801.0 591.7" fill="none" stroke="#161616" stroke-width="3.3" stroke-linecap="round" stroke-linejoin="round"/>
<path d="M480.4 827.6 L429.0 827.6 M446.0 815.3 L429.0 827.6 L446.0 839.9" fill="none" stroke="#161616" stroke-width="3.3" stroke-linecap="round" stroke-linejoin="round"/>
<path d="M811.3 827.6 L760.0 827.6 M777.0 815.3 L760.0 827.6 L777.0 839.9" fill="none" stroke="#161616" stroke-width="3.3" stroke-linecap="round" stroke-linejoin="round"/>
<path d="M431.6 1041.0 L484.4 1041.0 M467.4 1053.3 L484.4 1041.0 L467.4 1028.7" fill="none" stroke="#161616" stroke-width="3.3" stroke-linecap="round" stroke-linejoin="round"/>
<path d="M480.4 1245.7 L429.0 1245.7 M446.0 1233.4 L429.0 1245.7 L446.0 1258.0" fill="none" stroke="#161616" stroke-width="3.3" stroke-linecap="round" stroke-linejoin="round"/>
<path d="M814.0 1245.7 L761.2 1245.7 M778.2 1233.4 L761.2 1245.7 L778.2 1258.0" fill="none" stroke="#161616" stroke-width="3.3" stroke-linecap="round" stroke-linejoin="round"/>
<path d="M640.0 1447.0 L698.0 1447.0 M681.0 1459.3 L698.0 1447.0 L681.0 1434.7" fill="none" stroke="#161616" stroke-width="3.3" stroke-linecap="round" stroke-linejoin="round"/>
<path d="M1650.5 604.0 L1699.3 604.0 M1682.3 616.3 L1699.3 604.0 L1682.3 591.7" fill="none" stroke="#161616" stroke-width="3.3" stroke-linecap="round" stroke-linejoin="round"/>
<path d="M1997.0 604.0 L2047.0 604.0 M2030.0 616.3 L2047.0 604.0 L2030.0 591.7" fill="none" stroke="#161616" stroke-width="3.3" stroke-linecap="round" stroke-linejoin="round"/>
<path d="M1706.0 830.2 L1654.5 830.2 M1671.5 817.9 L1654.5 830.2 L1671.5 842.5" fill="none" stroke="#161616" stroke-width="3.3" stroke-linecap="round" stroke-linejoin="round"/>
<path d="M2041.0 830.0 L1990.0 830.0 M2007.0 817.7 L1990.0 830.0 L2007.0 842.3" fill="none" stroke="#161616" stroke-width="3.3" stroke-linecap="round" stroke-linejoin="round"/>
<path d="M1657.0 1045.8 L1710.0 1045.8 M1693.0 1058.1 L1710.0 1045.8 L1693.0 1033.5" fill="none" stroke="#161616" stroke-width="3.3" stroke-linecap="round" stroke-linejoin="round"/>
<path d="M1707.0 1252.3 L1655.3 1252.3 M1672.3 1240.0 L1655.3 1252.3 L1672.3 1264.6" fill="none" stroke="#161616" stroke-width="3.3" stroke-linecap="round" stroke-linejoin="round"/>
<path d="M125 389.5 C122 425 136 450 161 469.8 M132.5 459.7 L161.6 470.3 L154.1 440.2" fill="none" stroke="#161616" stroke-width="3.6" stroke-linecap="round" stroke-linejoin="round"/>
<path d="M1347.6 389.5 C1344.6 425 1358.6 450 1383.6 469.8 M1355.1 459.7 L1384.2 470.3 L1376.7 440.2" fill="none" stroke="#161616" stroke-width="3.6" stroke-linecap="round" stroke-linejoin="round"/>
<path d="M1092.0 395.0 C1108.0 408.0 1100.0 436.0 1084.0 436.0 C1072.0 436.0 1068.0 422.0 1079.0 421.0 C1092.0 421.0 1084.0 455.0 1046.0 469.5 M1055.5 454.5 L1046.0 469.8 L1063.1 475.4" fill="none" stroke="#161616" stroke-width="3.6" stroke-linecap="round" stroke-linejoin="round"/>
<path d="M2324.5 393.0 C2340.5 406.0 2332.5 434.0 2316.5 434.0 C2304.5 434.0 2300.5 420.0 2311.5 419.0 C2324.5 419.0 2316.5 453.0 2278.5 467.5 M2288.0 452.5 L2278.5 467.8 L2295.6 473.4" fill="none" stroke="#161616" stroke-width="3.6" stroke-linecap="round" stroke-linejoin="round"/>
<path d="M1084.1 1378.7 C1086.0 1400.0 1070.0 1420.0 1053.0 1421.0 C1040.0 1421.5 1033.0 1413.0 1037.0 1405.0 C1041.0 1399.0 1053.0 1400.0 1056.0 1409.0 C1058.0 1425.0 1035.0 1444.0 1008.5 1451.0 M1018.6 1435.7 L1007.7 1451.3 L1025.4 1458.1" fill="none" stroke="#161616" stroke-width="3.6" stroke-linecap="round" stroke-linejoin="round"/>
<path d="M2316.1 1388.1 C2318.0 1409.4 2302.0 1429.4 2285.0 1430.4 C2272.0 1430.9 2265.0 1422.4 2269.0 1414.4 C2273.0 1408.4 2285.0 1409.4 2288.0 1418.4 C2290.0 1434.4 2267.0 1453.4 2240.5 1460.4 M2250.6 1445.1 L2239.7 1460.7 L2257.4 1467.5" fill="none" stroke="#161616" stroke-width="3.6" stroke-linecap="round" stroke-linejoin="round"/>
<path d="M140.4 1485.5 C136.0 1510.0 160.0 1530.0 182.0 1526.0 C204.0 1521.0 200.0 1497.0 187.0 1498.0 C168.0 1500.0 180.0 1548.0 237.0 1530.0 M226.3 1544.8 L238.0 1529.8 L220.6 1522.1" fill="none" stroke="#161616" stroke-width="3.6" stroke-linecap="round" stroke-linejoin="round"/>
<path d="M1363.4 1494.0 C1359.0 1518.5 1383.0 1538.5 1405.0 1534.5 C1427.0 1529.5 1423.0 1505.5 1410.0 1506.5 C1391.0 1508.5 1403.0 1556.5 1460.0 1538.5 M1449.3 1553.3 L1461.0 1538.3 L1443.6 1530.6" fill="none" stroke="#161616" stroke-width="3.6" stroke-linecap="round" stroke-linejoin="round"/>
<path d="M1096 615 C1150 640 1150 800 1093 831 M1101.1 813.7 L1092.0 831.5 L1111.9 833.9" fill="none" stroke="#161616" stroke-width="3.6" stroke-linecap="round" stroke-linejoin="round"/>
<path d="M2328 615 C2392 650 2380 790 2325.5 833.5 M2331.3 815.2 L2324.5 834.0 L2344.5 834.0" fill="none" stroke="#161616" stroke-width="3.6" stroke-linecap="round" stroke-linejoin="round"/>
<path d="M149.6 839.5 C90 860 90 1010 152 1046 M133.7 1048.9 L153.6 1046.5 L144.5 1028.7" fill="none" stroke="#161616" stroke-width="3.6" stroke-linecap="round" stroke-linejoin="round"/>
<path d="M1372.5 842 C1312 865 1312 1018 1373.5 1051.5 M1355.1 1054.4 L1375.0 1052.0 L1365.9 1034.2" fill="none" stroke="#161616" stroke-width="3.6" stroke-linecap="round" stroke-linejoin="round"/>
<path d="M1093.4 1045 C1150 1070 1150 1215 1093.5 1246.5 M1101.1 1229.2 L1092.0 1247.0 L1111.9 1249.4" fill="none" stroke="#161616" stroke-width="3.6" stroke-linecap="round" stroke-linejoin="round"/>
<path d="M2325.3 1049.7 C2390 1080 2385 1215 2326.5 1253 M2332.8 1235.2 L2325.0 1253.6 L2345.0 1254.6" fill="none" stroke="#161616" stroke-width="3.6" stroke-linecap="round" stroke-linejoin="round"/>
<path d="M270.9 1318 Q278 1350 303 1366 M283.8 1366.0 L303.8 1367.0 L298.0 1347.9" fill="none" stroke="#161616" stroke-width="3.6" stroke-linecap="round" stroke-linejoin="round"/>
<path d="M1496.4 1334 C1505 1420 1570 1462 1644 1461.5 M1627.7 1475.2 L1645.0 1461.7 L1627.7 1448.2" fill="none" stroke="#161616" stroke-width="3.6" stroke-linecap="round" stroke-linejoin="round"/>
</svg>
</body></html>
